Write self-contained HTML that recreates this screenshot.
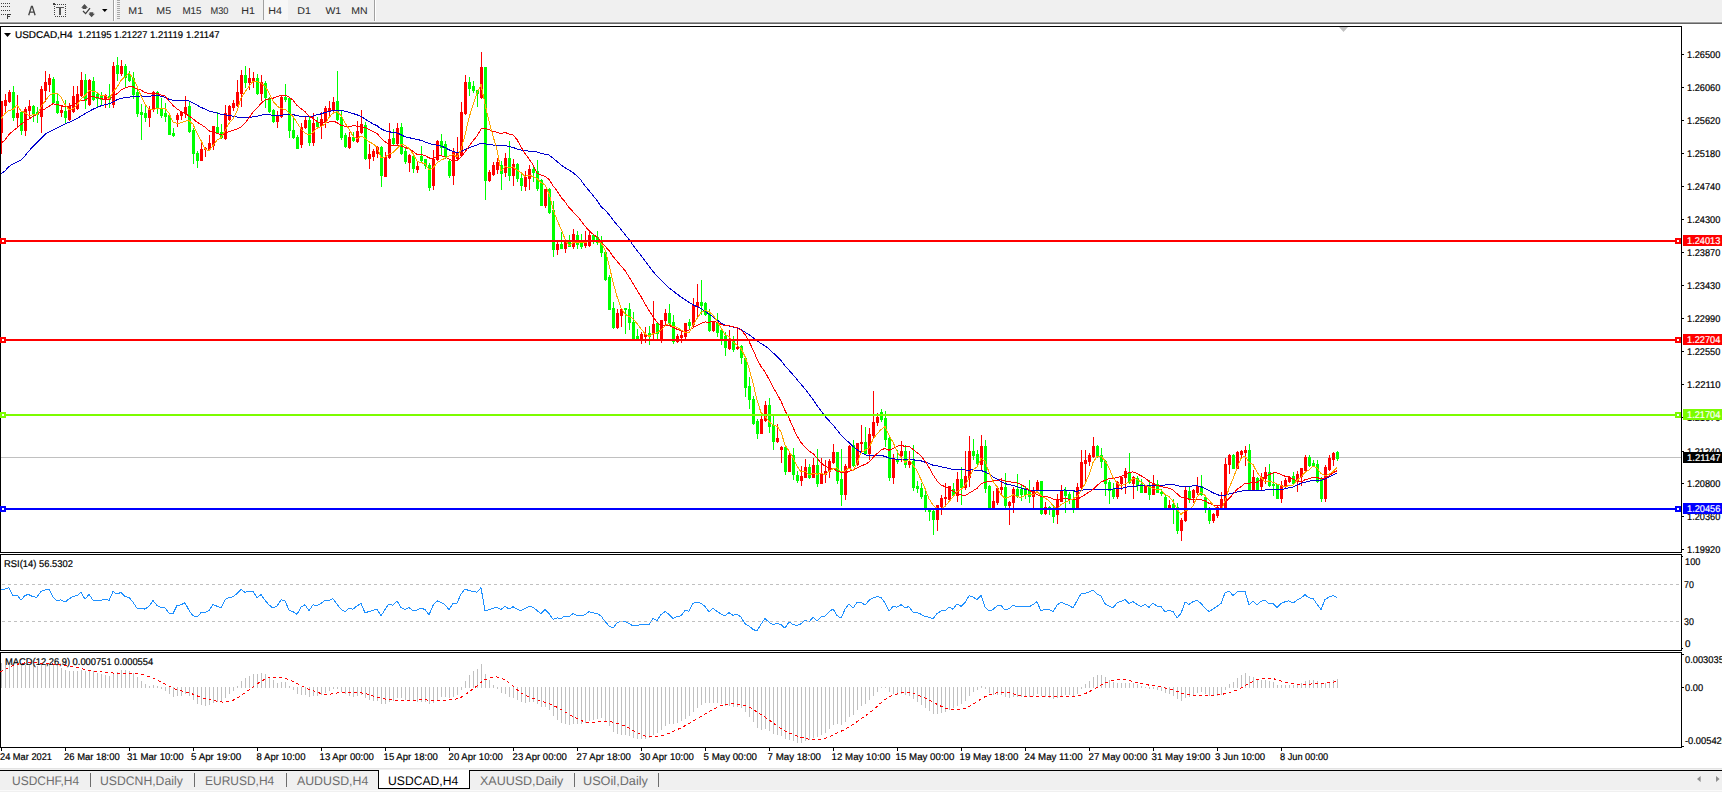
<!DOCTYPE html>
<html><head><meta charset="utf-8"><style>
html,body{margin:0;padding:0;background:#fff;width:1722px;height:792px;overflow:hidden}
svg{display:block}
text{font-family:"Liberation Sans",sans-serif;text-rendering:geometricPrecision}
</style></head><body>
<svg width="1722" height="792" viewBox="0 0 1722 792" shape-rendering="crispEdges">
<rect x="0" y="0" width="1722" height="21" fill="#f0f0f0"/>
<rect x="0" y="21" width="1722" height="1" fill="#f5f5f5"/>
<rect x="0" y="22" width="1722" height="1" fill="#a0a0a0"/>
<rect x="0" y="23" width="1722" height="1" fill="#646464"/>
<rect x="1" y="3" width="1" height="1" fill="#404040"/>
<rect x="3" y="3" width="1" height="1" fill="#404040"/>
<rect x="5" y="3" width="1" height="1" fill="#404040"/>
<rect x="7" y="3" width="1" height="1" fill="#404040"/>
<rect x="9" y="3" width="1" height="1" fill="#404040"/>
<rect x="1" y="6" width="1" height="1" fill="#404040"/>
<rect x="3" y="6" width="1" height="1" fill="#404040"/>
<rect x="5" y="6" width="1" height="1" fill="#404040"/>
<rect x="7" y="6" width="1" height="1" fill="#404040"/>
<rect x="9" y="6" width="1" height="1" fill="#404040"/>
<rect x="1" y="10" width="1" height="1" fill="#404040"/>
<rect x="3" y="10" width="1" height="1" fill="#404040"/>
<rect x="5" y="10" width="1" height="1" fill="#404040"/>
<rect x="7" y="10" width="1" height="1" fill="#404040"/>
<rect x="9" y="10" width="1" height="1" fill="#404040"/>
<rect x="1" y="14" width="1" height="1" fill="#404040"/>
<rect x="3" y="14" width="1" height="1" fill="#404040"/>
<rect x="5" y="14" width="1" height="1" fill="#404040"/>
<rect x="7" y="14" width="1" height="5" fill="#404040"/>
<rect x="7" y="14" width="4" height="1" fill="#404040"/>
<rect x="7" y="16" width="3" height="1" fill="#404040"/>
<path d="M28.7 15.2 L31.5 6.3 L32.3 6.3 L35.1 15.2 M29.9 12.1 L33.9 12.1" stroke="#454545" stroke-width="1.35" fill="none" shape-rendering="geometricPrecision"/>
<rect x="55" y="4" width="1" height="1" fill="#404040"/>
<rect x="55" y="16" width="1" height="1" fill="#404040"/>
<rect x="57" y="4" width="1" height="1" fill="#404040"/>
<rect x="57" y="16" width="1" height="1" fill="#404040"/>
<rect x="59" y="4" width="1" height="1" fill="#404040"/>
<rect x="59" y="16" width="1" height="1" fill="#404040"/>
<rect x="61" y="4" width="1" height="1" fill="#404040"/>
<rect x="61" y="16" width="1" height="1" fill="#404040"/>
<rect x="63" y="4" width="1" height="1" fill="#404040"/>
<rect x="63" y="16" width="1" height="1" fill="#404040"/>
<rect x="65" y="4" width="1" height="1" fill="#404040"/>
<rect x="65" y="16" width="1" height="1" fill="#404040"/>
<rect x="54" y="6" width="1" height="1" fill="#404040"/>
<rect x="65" y="6" width="1" height="1" fill="#404040"/>
<rect x="54" y="8" width="1" height="1" fill="#404040"/>
<rect x="65" y="8" width="1" height="1" fill="#404040"/>
<rect x="54" y="10" width="1" height="1" fill="#404040"/>
<rect x="65" y="10" width="1" height="1" fill="#404040"/>
<rect x="54" y="12" width="1" height="1" fill="#404040"/>
<rect x="65" y="12" width="1" height="1" fill="#404040"/>
<rect x="54" y="14" width="1" height="1" fill="#404040"/>
<rect x="65" y="14" width="1" height="1" fill="#404040"/>
<rect x="53" y="3" width="2" height="2" fill="#404040"/>
<rect x="56" y="7" width="8" height="1" fill="#555"/>
<rect x="59" y="7" width="2" height="8" fill="#555"/>
<path d="M81.2 7.8 L84.5 4 L87.9 7.8 L86.3 7.8 L86.3 8.9 L82.6 8.9 L82.6 7.8 Z" fill="#4e4e4e" shape-rendering="geometricPrecision"/>
<path d="M83 11 L85.6 13.6 L90 8.1" stroke="#3e3e3e" stroke-width="1.3" fill="none" shape-rendering="geometricPrecision"/>
<path d="M89.5 12.2 L93.3 12.2 L93.3 13.7 L94.9 13.7 L91.6 17.2 L88.4 13.7 L89.5 13.7 Z" fill="#4e4e4e" shape-rendering="geometricPrecision"/>
<path d="M102 9 L107.5 9 L104.75 12 Z" fill="#000" shape-rendering="geometricPrecision"/>
<rect x="113" y="0" width="1" height="21" fill="#a0a0a0"/>
<rect x="114" y="0" width="1" height="21" fill="#ffffff"/>
<rect x="117" y="0" width="3" height="1" fill="#a8a8a8"/>
<rect x="117" y="2" width="3" height="1" fill="#a8a8a8"/>
<rect x="117" y="4" width="3" height="1" fill="#a8a8a8"/>
<rect x="117" y="6" width="3" height="1" fill="#a8a8a8"/>
<rect x="117" y="8" width="3" height="1" fill="#a8a8a8"/>
<rect x="117" y="10" width="3" height="1" fill="#a8a8a8"/>
<rect x="117" y="12" width="3" height="1" fill="#a8a8a8"/>
<rect x="117" y="14" width="3" height="1" fill="#a8a8a8"/>
<rect x="117" y="16" width="3" height="1" fill="#a8a8a8"/>
<rect x="117" y="18" width="3" height="1" fill="#a8a8a8"/>
<rect x="263" y="0" width="1" height="20" fill="#a0a0a0"/>
<rect x="264" y="0" width="24" height="20" fill="#f7f7f7"/>
<rect x="374" y="0" width="1" height="21" fill="#a0a0a0"/>
<rect x="375" y="0" width="1" height="21" fill="#ffffff"/>
<text x="128.32" y="14" font-family="Liberation Sans, sans-serif" font-size="9.8" fill="#2e2e2e" stroke="#2e2e2e" stroke-width="0.05" textLength="14.76" lengthAdjust="spacingAndGlyphs">M1</text>
<text x="156.32" y="14" font-family="Liberation Sans, sans-serif" font-size="9.8" fill="#2e2e2e" stroke="#2e2e2e" stroke-width="0.05" textLength="14.76" lengthAdjust="spacingAndGlyphs">M5</text>
<text x="182.40" y="14" font-family="Liberation Sans, sans-serif" font-size="9.8" fill="#2e2e2e" stroke="#2e2e2e" stroke-width="0.05" textLength="19.06" lengthAdjust="spacingAndGlyphs">M15</text>
<text x="210.46" y="14" font-family="Liberation Sans, sans-serif" font-size="9.8" fill="#2e2e2e" stroke="#2e2e2e" stroke-width="0.05" textLength="18.00" lengthAdjust="spacingAndGlyphs">M30</text>
<text x="241.31" y="14" font-family="Liberation Sans, sans-serif" font-size="9.8" fill="#2e2e2e" stroke="#2e2e2e" stroke-width="0.05" textLength="13.67" lengthAdjust="spacingAndGlyphs">H1</text>
<text x="268.31" y="14" font-family="Liberation Sans, sans-serif" font-size="9.8" fill="#2e2e2e" stroke="#2e2e2e" stroke-width="0.05" textLength="13.67" lengthAdjust="spacingAndGlyphs">H4</text>
<text x="297.31" y="14" font-family="Liberation Sans, sans-serif" font-size="9.8" fill="#2e2e2e" stroke="#2e2e2e" stroke-width="0.05" textLength="13.67" lengthAdjust="spacingAndGlyphs">D1</text>
<text x="325.40" y="14" font-family="Liberation Sans, sans-serif" font-size="9.8" fill="#2e2e2e" stroke="#2e2e2e" stroke-width="0.05" textLength="15.75" lengthAdjust="spacingAndGlyphs">W1</text>
<text x="351.33" y="14" font-family="Liberation Sans, sans-serif" font-size="9.8" fill="#2e2e2e" stroke="#2e2e2e" stroke-width="0.05" textLength="16.34" lengthAdjust="spacingAndGlyphs">MN</text>
<rect x="0" y="24" width="1722" height="744" fill="#ffffff"/>
<rect x="0" y="457" width="1681" height="1" fill="#c0c0c0"/>
<rect x="1" y="101" width="1" height="53" fill="#ff0000"/>
<rect x="0" y="101" width="3" height="32" fill="#ff0000"/>
<rect x="5" y="94" width="1" height="19" fill="#ff0000"/>
<rect x="4" y="100" width="3" height="6" fill="#ff0000"/>
<rect x="9" y="90" width="1" height="13" fill="#ff0000"/>
<rect x="8" y="92" width="3" height="10" fill="#ff0000"/>
<rect x="13" y="86" width="1" height="35" fill="#00ff00"/>
<rect x="12" y="92" width="3" height="26" fill="#00ff00"/>
<rect x="17" y="95" width="1" height="33" fill="#ff0000"/>
<rect x="16" y="113" width="3" height="5" fill="#ff0000"/>
<rect x="21" y="111" width="1" height="24" fill="#00ff00"/>
<rect x="20" y="112" width="3" height="19" fill="#00ff00"/>
<rect x="25" y="107" width="1" height="29" fill="#ff0000"/>
<rect x="24" y="109" width="3" height="22" fill="#ff0000"/>
<rect x="29" y="100" width="1" height="18" fill="#ff0000"/>
<rect x="28" y="106" width="3" height="5" fill="#ff0000"/>
<rect x="33" y="105" width="1" height="17" fill="#00ff00"/>
<rect x="32" y="106" width="3" height="8" fill="#00ff00"/>
<rect x="37" y="107" width="1" height="16" fill="#00ff00"/>
<rect x="36" y="112" width="3" height="3" fill="#00ff00"/>
<rect x="41" y="86" width="1" height="47" fill="#ff0000"/>
<rect x="40" y="89" width="3" height="28" fill="#ff0000"/>
<rect x="45" y="71" width="1" height="31" fill="#ff0000"/>
<rect x="44" y="82" width="3" height="9" fill="#ff0000"/>
<rect x="49" y="74" width="1" height="18" fill="#ff0000"/>
<rect x="48" y="78" width="3" height="7" fill="#ff0000"/>
<rect x="53" y="77" width="1" height="27" fill="#00ff00"/>
<rect x="52" y="79" width="3" height="24" fill="#00ff00"/>
<rect x="57" y="94" width="1" height="20" fill="#00ff00"/>
<rect x="56" y="101" width="3" height="12" fill="#00ff00"/>
<rect x="61" y="105" width="1" height="12" fill="#ff0000"/>
<rect x="60" y="110" width="3" height="3" fill="#ff0000"/>
<rect x="65" y="100" width="1" height="23" fill="#00ff00"/>
<rect x="64" y="111" width="3" height="7" fill="#00ff00"/>
<rect x="69" y="103" width="1" height="18" fill="#ff0000"/>
<rect x="68" y="106" width="3" height="14" fill="#ff0000"/>
<rect x="73" y="86" width="1" height="27" fill="#ff0000"/>
<rect x="72" y="96" width="3" height="16" fill="#ff0000"/>
<rect x="77" y="86" width="1" height="24" fill="#ff0000"/>
<rect x="76" y="94" width="3" height="15" fill="#ff0000"/>
<rect x="81" y="72" width="1" height="25" fill="#ff0000"/>
<rect x="80" y="80" width="3" height="16" fill="#ff0000"/>
<rect x="85" y="74" width="1" height="35" fill="#00ff00"/>
<rect x="84" y="80" width="3" height="21" fill="#00ff00"/>
<rect x="89" y="79" width="1" height="27" fill="#ff0000"/>
<rect x="88" y="80" width="3" height="25" fill="#ff0000"/>
<rect x="93" y="77" width="1" height="24" fill="#00ff00"/>
<rect x="92" y="81" width="3" height="19" fill="#00ff00"/>
<rect x="97" y="92" width="1" height="15" fill="#00ff00"/>
<rect x="96" y="94" width="3" height="5" fill="#00ff00"/>
<rect x="101" y="92" width="1" height="13" fill="#00ff00"/>
<rect x="100" y="95" width="3" height="5" fill="#00ff00"/>
<rect x="105" y="94" width="1" height="14" fill="#ff0000"/>
<rect x="104" y="95" width="3" height="5" fill="#ff0000"/>
<rect x="109" y="84" width="1" height="24" fill="#00ff00"/>
<rect x="108" y="96" width="3" height="4" fill="#00ff00"/>
<rect x="113" y="62" width="1" height="46" fill="#ff0000"/>
<rect x="112" y="66" width="3" height="39" fill="#ff0000"/>
<rect x="117" y="57" width="1" height="24" fill="#00ff00"/>
<rect x="116" y="65" width="3" height="9" fill="#00ff00"/>
<rect x="121" y="60" width="1" height="16" fill="#ff0000"/>
<rect x="120" y="66" width="3" height="8" fill="#ff0000"/>
<rect x="125" y="64" width="1" height="23" fill="#00ff00"/>
<rect x="124" y="66" width="3" height="12" fill="#00ff00"/>
<rect x="129" y="71" width="1" height="11" fill="#00ff00"/>
<rect x="128" y="74" width="3" height="7" fill="#00ff00"/>
<rect x="133" y="72" width="1" height="27" fill="#00ff00"/>
<rect x="132" y="78" width="3" height="17" fill="#00ff00"/>
<rect x="137" y="88" width="1" height="29" fill="#00ff00"/>
<rect x="136" y="92" width="3" height="22" fill="#00ff00"/>
<rect x="141" y="104" width="1" height="36" fill="#00ff00"/>
<rect x="140" y="112" width="3" height="3" fill="#00ff00"/>
<rect x="145" y="105" width="1" height="17" fill="#00ff00"/>
<rect x="144" y="113" width="3" height="5" fill="#00ff00"/>
<rect x="149" y="106" width="1" height="21" fill="#ff0000"/>
<rect x="148" y="109" width="3" height="9" fill="#ff0000"/>
<rect x="153" y="91" width="1" height="21" fill="#ff0000"/>
<rect x="152" y="92" width="3" height="17" fill="#ff0000"/>
<rect x="157" y="91" width="1" height="23" fill="#00ff00"/>
<rect x="156" y="92" width="3" height="16" fill="#00ff00"/>
<rect x="161" y="98" width="1" height="20" fill="#00ff00"/>
<rect x="160" y="108" width="3" height="8" fill="#00ff00"/>
<rect x="165" y="103" width="1" height="19" fill="#00ff00"/>
<rect x="164" y="113" width="3" height="4" fill="#00ff00"/>
<rect x="169" y="115" width="1" height="20" fill="#00ff00"/>
<rect x="168" y="115" width="3" height="20" fill="#00ff00"/>
<rect x="173" y="128" width="1" height="9" fill="#00ff00"/>
<rect x="172" y="133" width="3" height="3" fill="#00ff00"/>
<rect x="177" y="113" width="1" height="14" fill="#ff0000"/>
<rect x="176" y="115" width="3" height="5" fill="#ff0000"/>
<rect x="181" y="111" width="1" height="9" fill="#ff0000"/>
<rect x="180" y="112" width="3" height="4" fill="#ff0000"/>
<rect x="185" y="96" width="1" height="22" fill="#ff0000"/>
<rect x="184" y="107" width="3" height="7" fill="#ff0000"/>
<rect x="189" y="101" width="1" height="32" fill="#00ff00"/>
<rect x="188" y="106" width="3" height="26" fill="#00ff00"/>
<rect x="193" y="128" width="1" height="36" fill="#00ff00"/>
<rect x="192" y="130" width="3" height="24" fill="#00ff00"/>
<rect x="197" y="151" width="1" height="17" fill="#00ff00"/>
<rect x="196" y="153" width="3" height="8" fill="#00ff00"/>
<rect x="201" y="142" width="1" height="19" fill="#ff0000"/>
<rect x="200" y="149" width="3" height="12" fill="#ff0000"/>
<rect x="205" y="147" width="1" height="10" fill="#ff0000"/>
<rect x="204" y="148" width="3" height="2" fill="#ff0000"/>
<rect x="209" y="135" width="1" height="15" fill="#ff0000"/>
<rect x="208" y="143" width="3" height="7" fill="#ff0000"/>
<rect x="213" y="126" width="1" height="24" fill="#ff0000"/>
<rect x="212" y="126" width="3" height="20" fill="#ff0000"/>
<rect x="217" y="112" width="1" height="22" fill="#00ff00"/>
<rect x="216" y="127" width="3" height="6" fill="#00ff00"/>
<rect x="221" y="124" width="1" height="15" fill="#00ff00"/>
<rect x="220" y="132" width="3" height="6" fill="#00ff00"/>
<rect x="225" y="105" width="1" height="35" fill="#ff0000"/>
<rect x="224" y="113" width="3" height="26" fill="#ff0000"/>
<rect x="229" y="105" width="1" height="16" fill="#ff0000"/>
<rect x="228" y="106" width="3" height="14" fill="#ff0000"/>
<rect x="233" y="100" width="1" height="11" fill="#ff0000"/>
<rect x="232" y="103" width="3" height="5" fill="#ff0000"/>
<rect x="237" y="80" width="1" height="27" fill="#ff0000"/>
<rect x="236" y="92" width="3" height="14" fill="#ff0000"/>
<rect x="241" y="70" width="1" height="37" fill="#ff0000"/>
<rect x="240" y="75" width="3" height="19" fill="#ff0000"/>
<rect x="245" y="66" width="1" height="22" fill="#00ff00"/>
<rect x="244" y="75" width="3" height="8" fill="#00ff00"/>
<rect x="249" y="68" width="1" height="22" fill="#ff0000"/>
<rect x="248" y="78" width="3" height="5" fill="#ff0000"/>
<rect x="253" y="72" width="1" height="16" fill="#ff0000"/>
<rect x="252" y="78" width="3" height="3" fill="#ff0000"/>
<rect x="257" y="74" width="1" height="21" fill="#00ff00"/>
<rect x="256" y="78" width="3" height="16" fill="#00ff00"/>
<rect x="261" y="75" width="1" height="26" fill="#ff0000"/>
<rect x="260" y="82" width="3" height="12" fill="#ff0000"/>
<rect x="265" y="81" width="1" height="27" fill="#00ff00"/>
<rect x="264" y="83" width="3" height="15" fill="#00ff00"/>
<rect x="269" y="97" width="1" height="16" fill="#00ff00"/>
<rect x="268" y="98" width="3" height="14" fill="#00ff00"/>
<rect x="273" y="109" width="1" height="14" fill="#00ff00"/>
<rect x="272" y="110" width="3" height="12" fill="#00ff00"/>
<rect x="277" y="111" width="1" height="17" fill="#ff0000"/>
<rect x="276" y="116" width="3" height="6" fill="#ff0000"/>
<rect x="281" y="96" width="1" height="22" fill="#ff0000"/>
<rect x="280" y="97" width="3" height="20" fill="#ff0000"/>
<rect x="285" y="84" width="1" height="18" fill="#00ff00"/>
<rect x="284" y="97" width="3" height="3" fill="#00ff00"/>
<rect x="289" y="97" width="1" height="41" fill="#00ff00"/>
<rect x="288" y="98" width="3" height="33" fill="#00ff00"/>
<rect x="293" y="116" width="1" height="23" fill="#00ff00"/>
<rect x="292" y="130" width="3" height="8" fill="#00ff00"/>
<rect x="297" y="135" width="1" height="14" fill="#00ff00"/>
<rect x="296" y="137" width="3" height="12" fill="#00ff00"/>
<rect x="301" y="123" width="1" height="25" fill="#ff0000"/>
<rect x="300" y="127" width="3" height="18" fill="#ff0000"/>
<rect x="305" y="117" width="1" height="12" fill="#ff0000"/>
<rect x="304" y="120" width="3" height="8" fill="#ff0000"/>
<rect x="309" y="117" width="1" height="29" fill="#00ff00"/>
<rect x="308" y="120" width="3" height="23" fill="#00ff00"/>
<rect x="313" y="113" width="1" height="33" fill="#ff0000"/>
<rect x="312" y="123" width="3" height="20" fill="#ff0000"/>
<rect x="317" y="117" width="1" height="11" fill="#00ff00"/>
<rect x="316" y="122" width="3" height="5" fill="#00ff00"/>
<rect x="321" y="112" width="1" height="27" fill="#ff0000"/>
<rect x="320" y="119" width="3" height="7" fill="#ff0000"/>
<rect x="325" y="106" width="1" height="22" fill="#ff0000"/>
<rect x="324" y="108" width="3" height="15" fill="#ff0000"/>
<rect x="329" y="101" width="1" height="15" fill="#ff0000"/>
<rect x="328" y="108" width="3" height="3" fill="#ff0000"/>
<rect x="333" y="97" width="1" height="16" fill="#ff0000"/>
<rect x="332" y="102" width="3" height="8" fill="#ff0000"/>
<rect x="337" y="71" width="1" height="50" fill="#00ff00"/>
<rect x="336" y="101" width="3" height="19" fill="#00ff00"/>
<rect x="341" y="110" width="1" height="30" fill="#00ff00"/>
<rect x="340" y="117" width="3" height="21" fill="#00ff00"/>
<rect x="345" y="133" width="1" height="15" fill="#00ff00"/>
<rect x="344" y="135" width="3" height="12" fill="#00ff00"/>
<rect x="349" y="132" width="1" height="17" fill="#ff0000"/>
<rect x="348" y="137" width="3" height="11" fill="#ff0000"/>
<rect x="353" y="132" width="1" height="10" fill="#00ff00"/>
<rect x="352" y="137" width="3" height="4" fill="#00ff00"/>
<rect x="357" y="121" width="1" height="22" fill="#ff0000"/>
<rect x="356" y="131" width="3" height="11" fill="#ff0000"/>
<rect x="361" y="110" width="1" height="24" fill="#ff0000"/>
<rect x="360" y="124" width="3" height="9" fill="#ff0000"/>
<rect x="365" y="122" width="1" height="38" fill="#00ff00"/>
<rect x="364" y="125" width="3" height="34" fill="#00ff00"/>
<rect x="369" y="144" width="1" height="25" fill="#ff0000"/>
<rect x="368" y="154" width="3" height="5" fill="#ff0000"/>
<rect x="373" y="149" width="1" height="12" fill="#ff0000"/>
<rect x="372" y="151" width="3" height="6" fill="#ff0000"/>
<rect x="377" y="146" width="1" height="12" fill="#ff0000"/>
<rect x="376" y="147" width="3" height="7" fill="#ff0000"/>
<rect x="381" y="146" width="1" height="41" fill="#00ff00"/>
<rect x="380" y="147" width="3" height="29" fill="#00ff00"/>
<rect x="385" y="152" width="1" height="25" fill="#ff0000"/>
<rect x="384" y="157" width="3" height="20" fill="#ff0000"/>
<rect x="389" y="123" width="1" height="36" fill="#ff0000"/>
<rect x="388" y="139" width="3" height="19" fill="#ff0000"/>
<rect x="393" y="129" width="1" height="17" fill="#00ff00"/>
<rect x="392" y="138" width="3" height="6" fill="#00ff00"/>
<rect x="397" y="123" width="1" height="23" fill="#ff0000"/>
<rect x="396" y="128" width="3" height="16" fill="#ff0000"/>
<rect x="401" y="123" width="1" height="32" fill="#00ff00"/>
<rect x="400" y="127" width="3" height="27" fill="#00ff00"/>
<rect x="405" y="147" width="1" height="17" fill="#00ff00"/>
<rect x="404" y="151" width="3" height="11" fill="#00ff00"/>
<rect x="409" y="154" width="1" height="18" fill="#ff0000"/>
<rect x="408" y="155" width="3" height="8" fill="#ff0000"/>
<rect x="413" y="155" width="1" height="18" fill="#00ff00"/>
<rect x="412" y="156" width="3" height="13" fill="#00ff00"/>
<rect x="417" y="162" width="1" height="11" fill="#ff0000"/>
<rect x="416" y="166" width="3" height="4" fill="#ff0000"/>
<rect x="421" y="146" width="1" height="16" fill="#00ff00"/>
<rect x="420" y="156" width="3" height="5" fill="#00ff00"/>
<rect x="425" y="159" width="1" height="10" fill="#00ff00"/>
<rect x="424" y="159" width="3" height="7" fill="#00ff00"/>
<rect x="429" y="163" width="1" height="28" fill="#00ff00"/>
<rect x="428" y="165" width="3" height="23" fill="#00ff00"/>
<rect x="433" y="150" width="1" height="40" fill="#ff0000"/>
<rect x="432" y="159" width="3" height="27" fill="#ff0000"/>
<rect x="437" y="140" width="1" height="21" fill="#ff0000"/>
<rect x="436" y="141" width="3" height="19" fill="#ff0000"/>
<rect x="441" y="134" width="1" height="21" fill="#00ff00"/>
<rect x="440" y="141" width="3" height="7" fill="#00ff00"/>
<rect x="445" y="141" width="1" height="18" fill="#00ff00"/>
<rect x="444" y="144" width="3" height="13" fill="#00ff00"/>
<rect x="449" y="159" width="1" height="19" fill="#00ff00"/>
<rect x="448" y="161" width="3" height="15" fill="#00ff00"/>
<rect x="453" y="148" width="1" height="37" fill="#ff0000"/>
<rect x="452" y="152" width="3" height="24" fill="#ff0000"/>
<rect x="457" y="137" width="1" height="23" fill="#ff0000"/>
<rect x="456" y="152" width="3" height="7" fill="#ff0000"/>
<rect x="461" y="102" width="1" height="55" fill="#ff0000"/>
<rect x="460" y="112" width="3" height="44" fill="#ff0000"/>
<rect x="465" y="75" width="1" height="40" fill="#ff0000"/>
<rect x="464" y="82" width="3" height="32" fill="#ff0000"/>
<rect x="469" y="77" width="1" height="19" fill="#00ff00"/>
<rect x="468" y="82" width="3" height="7" fill="#00ff00"/>
<rect x="473" y="81" width="1" height="12" fill="#00ff00"/>
<rect x="472" y="86" width="3" height="5" fill="#00ff00"/>
<rect x="477" y="90" width="1" height="17" fill="#00ff00"/>
<rect x="476" y="90" width="3" height="4" fill="#00ff00"/>
<rect x="481" y="52" width="1" height="47" fill="#ff0000"/>
<rect x="480" y="67" width="3" height="31" fill="#ff0000"/>
<rect x="485" y="67" width="1" height="133" fill="#00ff00"/>
<rect x="484" y="67" width="3" height="114" fill="#00ff00"/>
<rect x="489" y="170" width="1" height="12" fill="#ff0000"/>
<rect x="488" y="172" width="3" height="9" fill="#ff0000"/>
<rect x="493" y="162" width="1" height="14" fill="#ff0000"/>
<rect x="492" y="165" width="3" height="10" fill="#ff0000"/>
<rect x="497" y="158" width="1" height="16" fill="#ff0000"/>
<rect x="496" y="162" width="3" height="8" fill="#ff0000"/>
<rect x="501" y="161" width="1" height="29" fill="#00ff00"/>
<rect x="500" y="165" width="3" height="9" fill="#00ff00"/>
<rect x="505" y="153" width="1" height="24" fill="#ff0000"/>
<rect x="504" y="158" width="3" height="15" fill="#ff0000"/>
<rect x="509" y="141" width="1" height="40" fill="#00ff00"/>
<rect x="508" y="158" width="3" height="18" fill="#00ff00"/>
<rect x="513" y="159" width="1" height="27" fill="#ff0000"/>
<rect x="512" y="164" width="3" height="12" fill="#ff0000"/>
<rect x="517" y="163" width="1" height="19" fill="#00ff00"/>
<rect x="516" y="164" width="3" height="15" fill="#00ff00"/>
<rect x="521" y="173" width="1" height="18" fill="#00ff00"/>
<rect x="520" y="178" width="3" height="8" fill="#00ff00"/>
<rect x="525" y="171" width="1" height="20" fill="#ff0000"/>
<rect x="524" y="177" width="3" height="10" fill="#ff0000"/>
<rect x="529" y="165" width="1" height="25" fill="#ff0000"/>
<rect x="528" y="169" width="3" height="10" fill="#ff0000"/>
<rect x="533" y="166" width="1" height="16" fill="#00ff00"/>
<rect x="532" y="169" width="3" height="4" fill="#00ff00"/>
<rect x="537" y="160" width="1" height="31" fill="#00ff00"/>
<rect x="536" y="171" width="3" height="18" fill="#00ff00"/>
<rect x="541" y="179" width="1" height="27" fill="#00ff00"/>
<rect x="540" y="180" width="3" height="26" fill="#00ff00"/>
<rect x="545" y="189" width="1" height="19" fill="#ff0000"/>
<rect x="544" y="189" width="3" height="17" fill="#ff0000"/>
<rect x="549" y="188" width="1" height="26" fill="#00ff00"/>
<rect x="548" y="189" width="3" height="24" fill="#00ff00"/>
<rect x="553" y="201" width="1" height="56" fill="#00ff00"/>
<rect x="552" y="210" width="3" height="40" fill="#00ff00"/>
<rect x="557" y="242" width="1" height="13" fill="#ff0000"/>
<rect x="556" y="244" width="3" height="6" fill="#ff0000"/>
<rect x="561" y="232" width="1" height="17" fill="#00ff00"/>
<rect x="560" y="244" width="3" height="5" fill="#00ff00"/>
<rect x="565" y="239" width="1" height="14" fill="#ff0000"/>
<rect x="564" y="240" width="3" height="9" fill="#ff0000"/>
<rect x="569" y="235" width="1" height="12" fill="#00ff00"/>
<rect x="568" y="241" width="3" height="6" fill="#00ff00"/>
<rect x="573" y="229" width="1" height="20" fill="#ff0000"/>
<rect x="572" y="234" width="3" height="13" fill="#ff0000"/>
<rect x="577" y="231" width="1" height="18" fill="#00ff00"/>
<rect x="576" y="235" width="3" height="10" fill="#00ff00"/>
<rect x="581" y="234" width="1" height="15" fill="#00ff00"/>
<rect x="580" y="241" width="3" height="6" fill="#00ff00"/>
<rect x="585" y="231" width="1" height="17" fill="#ff0000"/>
<rect x="584" y="243" width="3" height="3" fill="#ff0000"/>
<rect x="589" y="230" width="1" height="17" fill="#ff0000"/>
<rect x="588" y="235" width="3" height="11" fill="#ff0000"/>
<rect x="593" y="234" width="1" height="10" fill="#00ff00"/>
<rect x="592" y="235" width="3" height="5" fill="#00ff00"/>
<rect x="597" y="231" width="1" height="14" fill="#00ff00"/>
<rect x="596" y="237" width="3" height="6" fill="#00ff00"/>
<rect x="601" y="236" width="1" height="21" fill="#00ff00"/>
<rect x="600" y="242" width="3" height="11" fill="#00ff00"/>
<rect x="605" y="250" width="1" height="31" fill="#00ff00"/>
<rect x="604" y="252" width="3" height="28" fill="#00ff00"/>
<rect x="609" y="275" width="1" height="35" fill="#00ff00"/>
<rect x="608" y="277" width="3" height="33" fill="#00ff00"/>
<rect x="613" y="302" width="1" height="27" fill="#00ff00"/>
<rect x="612" y="308" width="3" height="20" fill="#00ff00"/>
<rect x="617" y="309" width="1" height="20" fill="#ff0000"/>
<rect x="616" y="313" width="3" height="15" fill="#ff0000"/>
<rect x="621" y="308" width="1" height="19" fill="#ff0000"/>
<rect x="620" y="309" width="3" height="7" fill="#ff0000"/>
<rect x="625" y="308" width="1" height="26" fill="#00ff00"/>
<rect x="624" y="308" width="3" height="2" fill="#00ff00"/>
<rect x="629" y="303" width="1" height="27" fill="#00ff00"/>
<rect x="628" y="309" width="3" height="14" fill="#00ff00"/>
<rect x="633" y="312" width="1" height="27" fill="#00ff00"/>
<rect x="632" y="322" width="3" height="17" fill="#00ff00"/>
<rect x="637" y="329" width="1" height="10" fill="#00ff00"/>
<rect x="636" y="336" width="3" height="3" fill="#00ff00"/>
<rect x="641" y="332" width="1" height="12" fill="#ff0000"/>
<rect x="640" y="334" width="3" height="5" fill="#ff0000"/>
<rect x="645" y="327" width="1" height="16" fill="#ff0000"/>
<rect x="644" y="334" width="3" height="3" fill="#ff0000"/>
<rect x="649" y="326" width="1" height="19" fill="#00ff00"/>
<rect x="648" y="333" width="3" height="4" fill="#00ff00"/>
<rect x="653" y="301" width="1" height="38" fill="#ff0000"/>
<rect x="652" y="324" width="3" height="10" fill="#ff0000"/>
<rect x="657" y="322" width="1" height="18" fill="#00ff00"/>
<rect x="656" y="323" width="3" height="11" fill="#00ff00"/>
<rect x="661" y="320" width="1" height="23" fill="#ff0000"/>
<rect x="660" y="320" width="3" height="20" fill="#ff0000"/>
<rect x="665" y="309" width="1" height="17" fill="#ff0000"/>
<rect x="664" y="313" width="3" height="8" fill="#ff0000"/>
<rect x="669" y="304" width="1" height="21" fill="#00ff00"/>
<rect x="668" y="313" width="3" height="11" fill="#00ff00"/>
<rect x="673" y="315" width="1" height="29" fill="#00ff00"/>
<rect x="672" y="322" width="3" height="20" fill="#00ff00"/>
<rect x="677" y="334" width="1" height="9" fill="#ff0000"/>
<rect x="676" y="336" width="3" height="6" fill="#ff0000"/>
<rect x="681" y="330" width="1" height="13" fill="#ff0000"/>
<rect x="680" y="335" width="3" height="3" fill="#ff0000"/>
<rect x="685" y="323" width="1" height="17" fill="#ff0000"/>
<rect x="684" y="323" width="3" height="14" fill="#ff0000"/>
<rect x="689" y="319" width="1" height="11" fill="#00ff00"/>
<rect x="688" y="322" width="3" height="4" fill="#00ff00"/>
<rect x="693" y="298" width="1" height="29" fill="#ff0000"/>
<rect x="692" y="305" width="3" height="20" fill="#ff0000"/>
<rect x="697" y="284" width="1" height="33" fill="#ff0000"/>
<rect x="696" y="302" width="3" height="5" fill="#ff0000"/>
<rect x="701" y="280" width="1" height="35" fill="#00ff00"/>
<rect x="700" y="302" width="3" height="4" fill="#00ff00"/>
<rect x="705" y="302" width="1" height="14" fill="#00ff00"/>
<rect x="704" y="303" width="3" height="12" fill="#00ff00"/>
<rect x="709" y="309" width="1" height="23" fill="#00ff00"/>
<rect x="708" y="313" width="3" height="18" fill="#00ff00"/>
<rect x="713" y="321" width="1" height="11" fill="#ff0000"/>
<rect x="712" y="322" width="3" height="9" fill="#ff0000"/>
<rect x="717" y="313" width="1" height="24" fill="#00ff00"/>
<rect x="716" y="322" width="3" height="11" fill="#00ff00"/>
<rect x="721" y="328" width="1" height="17" fill="#00ff00"/>
<rect x="720" y="330" width="3" height="11" fill="#00ff00"/>
<rect x="725" y="332" width="1" height="24" fill="#00ff00"/>
<rect x="724" y="336" width="3" height="12" fill="#00ff00"/>
<rect x="729" y="330" width="1" height="20" fill="#ff0000"/>
<rect x="728" y="340" width="3" height="9" fill="#ff0000"/>
<rect x="733" y="336" width="1" height="16" fill="#00ff00"/>
<rect x="732" y="340" width="3" height="10" fill="#00ff00"/>
<rect x="737" y="327" width="1" height="23" fill="#ff0000"/>
<rect x="736" y="347" width="3" height="2" fill="#ff0000"/>
<rect x="741" y="345" width="1" height="19" fill="#00ff00"/>
<rect x="740" y="346" width="3" height="12" fill="#00ff00"/>
<rect x="745" y="357" width="1" height="40" fill="#00ff00"/>
<rect x="744" y="358" width="3" height="30" fill="#00ff00"/>
<rect x="749" y="377" width="1" height="32" fill="#00ff00"/>
<rect x="748" y="386" width="3" height="14" fill="#00ff00"/>
<rect x="753" y="396" width="1" height="29" fill="#00ff00"/>
<rect x="752" y="399" width="3" height="25" fill="#00ff00"/>
<rect x="757" y="419" width="1" height="20" fill="#00ff00"/>
<rect x="756" y="421" width="3" height="13" fill="#00ff00"/>
<rect x="761" y="416" width="1" height="18" fill="#ff0000"/>
<rect x="760" y="419" width="3" height="15" fill="#ff0000"/>
<rect x="765" y="401" width="1" height="21" fill="#ff0000"/>
<rect x="764" y="405" width="3" height="16" fill="#ff0000"/>
<rect x="769" y="398" width="1" height="35" fill="#00ff00"/>
<rect x="768" y="405" width="3" height="22" fill="#00ff00"/>
<rect x="773" y="415" width="1" height="35" fill="#00ff00"/>
<rect x="772" y="425" width="3" height="17" fill="#00ff00"/>
<rect x="777" y="424" width="1" height="19" fill="#ff0000"/>
<rect x="776" y="438" width="3" height="4" fill="#ff0000"/>
<rect x="781" y="446" width="1" height="17" fill="#ff0000"/>
<rect x="780" y="447" width="3" height="3" fill="#ff0000"/>
<rect x="785" y="447" width="1" height="28" fill="#00ff00"/>
<rect x="784" y="447" width="3" height="25" fill="#00ff00"/>
<rect x="789" y="451" width="1" height="21" fill="#ff0000"/>
<rect x="788" y="455" width="3" height="17" fill="#ff0000"/>
<rect x="793" y="448" width="1" height="32" fill="#00ff00"/>
<rect x="792" y="455" width="3" height="20" fill="#00ff00"/>
<rect x="797" y="471" width="1" height="12" fill="#00ff00"/>
<rect x="796" y="475" width="3" height="6" fill="#00ff00"/>
<rect x="801" y="466" width="1" height="20" fill="#ff0000"/>
<rect x="800" y="476" width="3" height="5" fill="#ff0000"/>
<rect x="805" y="459" width="1" height="19" fill="#ff0000"/>
<rect x="804" y="467" width="3" height="11" fill="#ff0000"/>
<rect x="809" y="464" width="1" height="15" fill="#00ff00"/>
<rect x="808" y="467" width="3" height="11" fill="#00ff00"/>
<rect x="813" y="458" width="1" height="20" fill="#ff0000"/>
<rect x="812" y="465" width="3" height="13" fill="#ff0000"/>
<rect x="817" y="449" width="1" height="38" fill="#00ff00"/>
<rect x="816" y="465" width="3" height="19" fill="#00ff00"/>
<rect x="821" y="458" width="1" height="26" fill="#ff0000"/>
<rect x="820" y="474" width="3" height="10" fill="#ff0000"/>
<rect x="825" y="460" width="1" height="23" fill="#ff0000"/>
<rect x="824" y="471" width="3" height="4" fill="#ff0000"/>
<rect x="829" y="459" width="1" height="19" fill="#ff0000"/>
<rect x="828" y="461" width="3" height="11" fill="#ff0000"/>
<rect x="833" y="444" width="1" height="20" fill="#ff0000"/>
<rect x="832" y="452" width="3" height="11" fill="#ff0000"/>
<rect x="837" y="452" width="1" height="32" fill="#00ff00"/>
<rect x="836" y="452" width="3" height="29" fill="#00ff00"/>
<rect x="841" y="449" width="1" height="57" fill="#00ff00"/>
<rect x="840" y="479" width="3" height="16" fill="#00ff00"/>
<rect x="845" y="464" width="1" height="36" fill="#ff0000"/>
<rect x="844" y="466" width="3" height="29" fill="#ff0000"/>
<rect x="849" y="445" width="1" height="24" fill="#ff0000"/>
<rect x="848" y="446" width="3" height="23" fill="#ff0000"/>
<rect x="853" y="440" width="1" height="27" fill="#00ff00"/>
<rect x="852" y="445" width="3" height="21" fill="#00ff00"/>
<rect x="857" y="443" width="1" height="23" fill="#ff0000"/>
<rect x="856" y="443" width="3" height="22" fill="#ff0000"/>
<rect x="861" y="425" width="1" height="28" fill="#ff0000"/>
<rect x="860" y="442" width="3" height="2" fill="#ff0000"/>
<rect x="865" y="427" width="1" height="28" fill="#00ff00"/>
<rect x="864" y="442" width="3" height="12" fill="#00ff00"/>
<rect x="869" y="428" width="1" height="32" fill="#ff0000"/>
<rect x="868" y="434" width="3" height="20" fill="#ff0000"/>
<rect x="873" y="391" width="1" height="47" fill="#ff0000"/>
<rect x="872" y="422" width="3" height="14" fill="#ff0000"/>
<rect x="877" y="413" width="1" height="13" fill="#ff0000"/>
<rect x="876" y="417" width="3" height="6" fill="#ff0000"/>
<rect x="881" y="409" width="1" height="13" fill="#00ff00"/>
<rect x="880" y="412" width="3" height="8" fill="#00ff00"/>
<rect x="885" y="411" width="1" height="36" fill="#00ff00"/>
<rect x="884" y="418" width="3" height="22" fill="#00ff00"/>
<rect x="889" y="437" width="1" height="44" fill="#00ff00"/>
<rect x="888" y="438" width="3" height="40" fill="#00ff00"/>
<rect x="893" y="454" width="1" height="30" fill="#ff0000"/>
<rect x="892" y="458" width="3" height="20" fill="#ff0000"/>
<rect x="897" y="450" width="1" height="14" fill="#00ff00"/>
<rect x="896" y="459" width="3" height="3" fill="#00ff00"/>
<rect x="901" y="441" width="1" height="21" fill="#ff0000"/>
<rect x="900" y="451" width="3" height="5" fill="#ff0000"/>
<rect x="905" y="445" width="1" height="23" fill="#00ff00"/>
<rect x="904" y="451" width="3" height="14" fill="#00ff00"/>
<rect x="909" y="451" width="1" height="17" fill="#ff0000"/>
<rect x="908" y="461" width="3" height="4" fill="#ff0000"/>
<rect x="913" y="445" width="1" height="46" fill="#00ff00"/>
<rect x="912" y="461" width="3" height="27" fill="#00ff00"/>
<rect x="917" y="481" width="1" height="12" fill="#00ff00"/>
<rect x="916" y="486" width="3" height="3" fill="#00ff00"/>
<rect x="921" y="483" width="1" height="16" fill="#00ff00"/>
<rect x="920" y="488" width="3" height="9" fill="#00ff00"/>
<rect x="925" y="489" width="1" height="23" fill="#00ff00"/>
<rect x="924" y="495" width="3" height="14" fill="#00ff00"/>
<rect x="929" y="510" width="1" height="11" fill="#00ff00"/>
<rect x="928" y="510" width="3" height="2" fill="#00ff00"/>
<rect x="933" y="510" width="1" height="25" fill="#00ff00"/>
<rect x="932" y="511" width="3" height="9" fill="#00ff00"/>
<rect x="937" y="505" width="1" height="26" fill="#ff0000"/>
<rect x="936" y="505" width="3" height="15" fill="#ff0000"/>
<rect x="941" y="495" width="1" height="20" fill="#ff0000"/>
<rect x="940" y="498" width="3" height="9" fill="#ff0000"/>
<rect x="945" y="483" width="1" height="24" fill="#ff0000"/>
<rect x="944" y="497" width="3" height="2" fill="#ff0000"/>
<rect x="949" y="486" width="1" height="16" fill="#ff0000"/>
<rect x="948" y="486" width="3" height="14" fill="#ff0000"/>
<rect x="953" y="483" width="1" height="13" fill="#00ff00"/>
<rect x="952" y="489" width="3" height="7" fill="#00ff00"/>
<rect x="957" y="472" width="1" height="30" fill="#ff0000"/>
<rect x="956" y="479" width="3" height="17" fill="#ff0000"/>
<rect x="961" y="467" width="1" height="38" fill="#00ff00"/>
<rect x="960" y="479" width="3" height="9" fill="#00ff00"/>
<rect x="965" y="451" width="1" height="39" fill="#ff0000"/>
<rect x="964" y="476" width="3" height="12" fill="#ff0000"/>
<rect x="969" y="436" width="1" height="51" fill="#ff0000"/>
<rect x="968" y="451" width="3" height="27" fill="#ff0000"/>
<rect x="973" y="439" width="1" height="21" fill="#00ff00"/>
<rect x="972" y="451" width="3" height="5" fill="#00ff00"/>
<rect x="977" y="450" width="1" height="15" fill="#00ff00"/>
<rect x="976" y="454" width="3" height="10" fill="#00ff00"/>
<rect x="981" y="435" width="1" height="36" fill="#ff0000"/>
<rect x="980" y="446" width="3" height="19" fill="#ff0000"/>
<rect x="985" y="440" width="1" height="53" fill="#00ff00"/>
<rect x="984" y="446" width="3" height="43" fill="#00ff00"/>
<rect x="989" y="485" width="1" height="24" fill="#00ff00"/>
<rect x="988" y="486" width="3" height="22" fill="#00ff00"/>
<rect x="993" y="491" width="1" height="18" fill="#ff0000"/>
<rect x="992" y="501" width="3" height="8" fill="#ff0000"/>
<rect x="997" y="487" width="1" height="18" fill="#ff0000"/>
<rect x="996" y="488" width="3" height="15" fill="#ff0000"/>
<rect x="1001" y="478" width="1" height="16" fill="#ff0000"/>
<rect x="1000" y="487" width="3" height="3" fill="#ff0000"/>
<rect x="1005" y="473" width="1" height="35" fill="#00ff00"/>
<rect x="1004" y="487" width="3" height="19" fill="#00ff00"/>
<rect x="1009" y="501" width="1" height="24" fill="#ff0000"/>
<rect x="1008" y="502" width="3" height="4" fill="#ff0000"/>
<rect x="1013" y="487" width="1" height="26" fill="#ff0000"/>
<rect x="1012" y="489" width="3" height="14" fill="#ff0000"/>
<rect x="1017" y="474" width="1" height="24" fill="#00ff00"/>
<rect x="1016" y="489" width="3" height="8" fill="#00ff00"/>
<rect x="1021" y="485" width="1" height="16" fill="#00ff00"/>
<rect x="1020" y="489" width="3" height="6" fill="#00ff00"/>
<rect x="1025" y="486" width="1" height="13" fill="#00ff00"/>
<rect x="1024" y="488" width="3" height="7" fill="#00ff00"/>
<rect x="1029" y="480" width="1" height="23" fill="#00ff00"/>
<rect x="1028" y="490" width="3" height="7" fill="#00ff00"/>
<rect x="1033" y="487" width="1" height="21" fill="#ff0000"/>
<rect x="1032" y="490" width="3" height="7" fill="#ff0000"/>
<rect x="1037" y="480" width="1" height="13" fill="#ff0000"/>
<rect x="1036" y="482" width="3" height="9" fill="#ff0000"/>
<rect x="1041" y="481" width="1" height="34" fill="#00ff00"/>
<rect x="1040" y="481" width="3" height="33" fill="#00ff00"/>
<rect x="1045" y="502" width="1" height="13" fill="#ff0000"/>
<rect x="1044" y="507" width="3" height="7" fill="#ff0000"/>
<rect x="1049" y="506" width="1" height="9" fill="#00ff00"/>
<rect x="1048" y="507" width="3" height="3" fill="#00ff00"/>
<rect x="1053" y="505" width="1" height="18" fill="#00ff00"/>
<rect x="1052" y="508" width="3" height="9" fill="#00ff00"/>
<rect x="1057" y="494" width="1" height="30" fill="#ff0000"/>
<rect x="1056" y="499" width="3" height="16" fill="#ff0000"/>
<rect x="1061" y="485" width="1" height="17" fill="#ff0000"/>
<rect x="1060" y="490" width="3" height="12" fill="#ff0000"/>
<rect x="1065" y="487" width="1" height="26" fill="#00ff00"/>
<rect x="1064" y="490" width="3" height="6" fill="#00ff00"/>
<rect x="1069" y="492" width="1" height="12" fill="#00ff00"/>
<rect x="1068" y="494" width="3" height="6" fill="#00ff00"/>
<rect x="1073" y="490" width="1" height="23" fill="#00ff00"/>
<rect x="1072" y="499" width="3" height="10" fill="#00ff00"/>
<rect x="1077" y="483" width="1" height="26" fill="#ff0000"/>
<rect x="1076" y="487" width="3" height="22" fill="#ff0000"/>
<rect x="1081" y="450" width="1" height="40" fill="#ff0000"/>
<rect x="1080" y="462" width="3" height="26" fill="#ff0000"/>
<rect x="1085" y="450" width="1" height="33" fill="#ff0000"/>
<rect x="1084" y="460" width="3" height="4" fill="#ff0000"/>
<rect x="1089" y="453" width="1" height="13" fill="#ff0000"/>
<rect x="1088" y="455" width="3" height="7" fill="#ff0000"/>
<rect x="1093" y="437" width="1" height="21" fill="#ff0000"/>
<rect x="1092" y="446" width="3" height="11" fill="#ff0000"/>
<rect x="1097" y="445" width="1" height="13" fill="#00ff00"/>
<rect x="1096" y="446" width="3" height="11" fill="#00ff00"/>
<rect x="1101" y="448" width="1" height="20" fill="#00ff00"/>
<rect x="1100" y="455" width="3" height="7" fill="#00ff00"/>
<rect x="1105" y="460" width="1" height="36" fill="#00ff00"/>
<rect x="1104" y="461" width="3" height="23" fill="#00ff00"/>
<rect x="1109" y="480" width="1" height="24" fill="#00ff00"/>
<rect x="1108" y="482" width="3" height="9" fill="#00ff00"/>
<rect x="1113" y="483" width="1" height="16" fill="#00ff00"/>
<rect x="1112" y="489" width="3" height="8" fill="#00ff00"/>
<rect x="1117" y="481" width="1" height="18" fill="#ff0000"/>
<rect x="1116" y="482" width="3" height="15" fill="#ff0000"/>
<rect x="1121" y="476" width="1" height="14" fill="#ff0000"/>
<rect x="1120" y="477" width="3" height="7" fill="#ff0000"/>
<rect x="1125" y="468" width="1" height="26" fill="#ff0000"/>
<rect x="1124" y="471" width="3" height="7" fill="#ff0000"/>
<rect x="1129" y="453" width="1" height="31" fill="#00ff00"/>
<rect x="1128" y="472" width="3" height="11" fill="#00ff00"/>
<rect x="1133" y="476" width="1" height="23" fill="#ff0000"/>
<rect x="1132" y="477" width="3" height="7" fill="#ff0000"/>
<rect x="1137" y="476" width="1" height="15" fill="#00ff00"/>
<rect x="1136" y="478" width="3" height="8" fill="#00ff00"/>
<rect x="1141" y="479" width="1" height="14" fill="#00ff00"/>
<rect x="1140" y="484" width="3" height="9" fill="#00ff00"/>
<rect x="1145" y="485" width="1" height="8" fill="#ff0000"/>
<rect x="1144" y="486" width="3" height="7" fill="#ff0000"/>
<rect x="1149" y="480" width="1" height="20" fill="#00ff00"/>
<rect x="1148" y="486" width="3" height="9" fill="#00ff00"/>
<rect x="1153" y="475" width="1" height="20" fill="#ff0000"/>
<rect x="1152" y="483" width="3" height="12" fill="#ff0000"/>
<rect x="1157" y="480" width="1" height="13" fill="#00ff00"/>
<rect x="1156" y="484" width="3" height="9" fill="#00ff00"/>
<rect x="1161" y="489" width="1" height="7" fill="#00ff00"/>
<rect x="1160" y="492" width="3" height="2" fill="#00ff00"/>
<rect x="1165" y="495" width="1" height="14" fill="#00ff00"/>
<rect x="1164" y="497" width="3" height="12" fill="#00ff00"/>
<rect x="1169" y="500" width="1" height="9" fill="#ff0000"/>
<rect x="1168" y="505" width="3" height="3" fill="#ff0000"/>
<rect x="1173" y="499" width="1" height="25" fill="#00ff00"/>
<rect x="1172" y="504" width="3" height="5" fill="#00ff00"/>
<rect x="1177" y="503" width="1" height="31" fill="#00ff00"/>
<rect x="1176" y="507" width="3" height="24" fill="#00ff00"/>
<rect x="1181" y="518" width="1" height="23" fill="#ff0000"/>
<rect x="1180" y="520" width="3" height="11" fill="#ff0000"/>
<rect x="1185" y="486" width="1" height="36" fill="#ff0000"/>
<rect x="1184" y="490" width="3" height="31" fill="#ff0000"/>
<rect x="1189" y="487" width="1" height="16" fill="#00ff00"/>
<rect x="1188" y="491" width="3" height="8" fill="#00ff00"/>
<rect x="1193" y="489" width="1" height="14" fill="#ff0000"/>
<rect x="1192" y="490" width="3" height="8" fill="#ff0000"/>
<rect x="1197" y="477" width="1" height="18" fill="#ff0000"/>
<rect x="1196" y="486" width="3" height="7" fill="#ff0000"/>
<rect x="1201" y="475" width="1" height="21" fill="#00ff00"/>
<rect x="1200" y="486" width="3" height="9" fill="#00ff00"/>
<rect x="1205" y="496" width="1" height="17" fill="#00ff00"/>
<rect x="1204" y="497" width="3" height="12" fill="#00ff00"/>
<rect x="1209" y="507" width="1" height="17" fill="#00ff00"/>
<rect x="1208" y="508" width="3" height="13" fill="#00ff00"/>
<rect x="1213" y="513" width="1" height="10" fill="#ff0000"/>
<rect x="1212" y="514" width="3" height="7" fill="#ff0000"/>
<rect x="1217" y="505" width="1" height="13" fill="#ff0000"/>
<rect x="1216" y="507" width="3" height="9" fill="#ff0000"/>
<rect x="1221" y="492" width="1" height="17" fill="#ff0000"/>
<rect x="1220" y="499" width="3" height="10" fill="#ff0000"/>
<rect x="1225" y="458" width="1" height="51" fill="#ff0000"/>
<rect x="1224" y="464" width="3" height="45" fill="#ff0000"/>
<rect x="1229" y="454" width="1" height="20" fill="#ff0000"/>
<rect x="1228" y="455" width="3" height="10" fill="#ff0000"/>
<rect x="1233" y="454" width="1" height="15" fill="#00ff00"/>
<rect x="1232" y="455" width="3" height="14" fill="#00ff00"/>
<rect x="1237" y="451" width="1" height="18" fill="#ff0000"/>
<rect x="1236" y="452" width="3" height="17" fill="#ff0000"/>
<rect x="1241" y="450" width="1" height="9" fill="#ff0000"/>
<rect x="1240" y="451" width="3" height="4" fill="#ff0000"/>
<rect x="1245" y="446" width="1" height="20" fill="#ff0000"/>
<rect x="1244" y="450" width="3" height="3" fill="#ff0000"/>
<rect x="1249" y="444" width="1" height="47" fill="#00ff00"/>
<rect x="1248" y="450" width="3" height="41" fill="#00ff00"/>
<rect x="1253" y="470" width="1" height="21" fill="#ff0000"/>
<rect x="1252" y="477" width="3" height="14" fill="#ff0000"/>
<rect x="1257" y="477" width="1" height="14" fill="#00ff00"/>
<rect x="1256" y="478" width="3" height="13" fill="#00ff00"/>
<rect x="1261" y="473" width="1" height="18" fill="#ff0000"/>
<rect x="1260" y="477" width="3" height="10" fill="#ff0000"/>
<rect x="1265" y="467" width="1" height="17" fill="#ff0000"/>
<rect x="1264" y="472" width="3" height="7" fill="#ff0000"/>
<rect x="1269" y="464" width="1" height="23" fill="#00ff00"/>
<rect x="1268" y="472" width="3" height="14" fill="#00ff00"/>
<rect x="1273" y="473" width="1" height="23" fill="#00ff00"/>
<rect x="1272" y="484" width="3" height="2" fill="#00ff00"/>
<rect x="1277" y="484" width="1" height="15" fill="#00ff00"/>
<rect x="1276" y="484" width="3" height="15" fill="#00ff00"/>
<rect x="1281" y="481" width="1" height="22" fill="#ff0000"/>
<rect x="1280" y="485" width="3" height="14" fill="#ff0000"/>
<rect x="1285" y="478" width="1" height="11" fill="#ff0000"/>
<rect x="1284" y="480" width="3" height="6" fill="#ff0000"/>
<rect x="1289" y="476" width="1" height="7" fill="#ff0000"/>
<rect x="1288" y="477" width="3" height="5" fill="#ff0000"/>
<rect x="1293" y="472" width="1" height="13" fill="#00ff00"/>
<rect x="1292" y="476" width="3" height="8" fill="#00ff00"/>
<rect x="1297" y="471" width="1" height="21" fill="#ff0000"/>
<rect x="1296" y="474" width="3" height="7" fill="#ff0000"/>
<rect x="1301" y="468" width="1" height="18" fill="#ff0000"/>
<rect x="1300" y="468" width="3" height="9" fill="#ff0000"/>
<rect x="1305" y="455" width="1" height="17" fill="#ff0000"/>
<rect x="1304" y="457" width="3" height="14" fill="#ff0000"/>
<rect x="1309" y="455" width="1" height="12" fill="#00ff00"/>
<rect x="1308" y="457" width="3" height="9" fill="#00ff00"/>
<rect x="1313" y="460" width="1" height="7" fill="#00ff00"/>
<rect x="1312" y="463" width="3" height="3" fill="#00ff00"/>
<rect x="1317" y="460" width="1" height="23" fill="#00ff00"/>
<rect x="1316" y="464" width="3" height="18" fill="#00ff00"/>
<rect x="1321" y="477" width="1" height="25" fill="#00ff00"/>
<rect x="1320" y="479" width="3" height="20" fill="#00ff00"/>
<rect x="1325" y="465" width="1" height="37" fill="#ff0000"/>
<rect x="1324" y="467" width="3" height="32" fill="#ff0000"/>
<rect x="1329" y="455" width="1" height="16" fill="#ff0000"/>
<rect x="1328" y="458" width="3" height="12" fill="#ff0000"/>
<rect x="1333" y="452" width="1" height="14" fill="#ff0000"/>
<rect x="1332" y="453" width="3" height="7" fill="#ff0000"/>
<rect x="1337" y="451" width="1" height="10" fill="#00ff00"/>
<rect x="1336" y="452" width="3" height="7" fill="#00ff00"/>
<polyline points="0,174.7 1,174.0 5,170.8 9,166.6 13,163.9 17,161.9 21,160.0 25,155.8 29,150.8 33,146.6 37,142.4 41,138.4 45,134.4 49,131.9 53,129.9 57,127.9 61,125.9 65,123.9 69,122.3 73,120.7 77,118.4 81,116.1 85,113.7 89,111.4 93,109.2 97,107.5 101,105.8 105,104.7 109,103.7 113,102.2 117,99.6 121,98.4 125,97.6 129,97.2 133,96.4 137,96.4 141,95.9 145,96.2 149,96.3 153,95.6 157,95.3 161,96.2 165,97.3 169,99.2 173,100.3 177,100.4 181,100.5 185,100.1 189,101.0 193,102.9 197,105.1 201,107.4 205,109.0 209,111.1 213,112.0 217,113.1 221,114.3 225,114.9 229,115.2 233,116.4 237,117.0 241,117.3 245,117.5 249,117.4 253,116.9 257,116.2 261,115.2 265,114.5 269,114.6 273,115.5 277,115.8 281,115.2 285,114.7 289,114.5 293,114.6 297,115.7 301,116.2 305,116.6 309,117.0 313,116.0 317,114.8 321,113.9 325,112.5 329,111.4 333,110.6 337,110.1 341,110.1 345,111.2 349,112.3 353,113.5 357,114.8 361,116.4 365,119.0 369,121.5 373,123.9 377,125.7 381,128.8 385,130.8 389,131.7 393,132.5 397,132.9 401,134.7 405,136.8 409,137.6 413,138.7 417,139.3 421,140.4 425,141.9 429,143.4 433,144.6 437,145.1 441,146.0 445,147.6 449,149.8 453,151.5 457,152.6 461,151.7 465,149.6 469,147.9 473,146.3 477,145.0 481,143.1 485,143.9 489,144.5 493,145.0 497,145.5 501,145.4 505,145.5 509,146.7 513,147.4 517,149.0 521,150.1 525,150.6 529,151.1 533,151.2 537,151.9 541,153.4 545,154.2 549,155.0 553,158.0 557,161.5 561,164.9 565,167.7 569,170.0 573,172.7 577,175.8 581,180.3 585,185.7 589,190.6 593,195.5 597,200.5 601,206.7 605,210.0 609,214.5 613,219.9 617,224.9 621,229.4 625,234.5 629,239.4 633,245.2 637,250.5 641,255.5 645,260.7 649,266.3 653,271.4 657,276.2 661,280.1 665,284.2 669,287.9 673,291.0 677,294.0 681,297.0 685,299.7 689,302.4 693,304.7 697,306.7 701,308.6 705,311.0 709,314.1 713,316.9 717,319.9 721,322.8 725,325.1 729,326.1 733,326.9 737,328.0 741,329.6 745,332.2 749,334.7 753,337.6 757,340.7 761,343.6 765,345.9 769,348.9 773,352.8 777,356.3 781,360.5 785,365.8 789,370.2 793,374.7 797,379.5 801,384.2 805,389.0 809,394.0 813,399.4 817,405.4 821,411.0 825,416.3 829,420.6 833,425.0 837,429.9 841,435.0 845,439.0 849,442.5 853,446.4 857,449.6 861,452.4 865,454.6 869,455.8 873,455.8 877,455.3 881,455.3 885,456.4 889,458.1 893,458.6 897,459.4 901,459.5 905,459.3 909,459.5 913,459.9 917,460.2 921,460.8 925,462.2 929,463.4 933,465.2 937,465.9 941,466.7 945,467.6 949,468.4 953,469.9 957,469.8 961,469.6 965,470.0 969,470.1 973,469.8 977,470.4 981,470.6 985,471.7 989,474.2 993,476.8 997,479.2 1001,481.5 1005,483.7 1009,484.5 1013,485.5 1017,486.7 1021,488.1 1025,489.2 1029,490.3 1033,490.4 1037,490.2 1041,490.8 1045,490.7 1049,490.7 1053,490.6 1057,490.4 1061,490.1 1065,490.0 1069,490.5 1073,490.9 1077,491.2 1081,490.3 1085,489.8 1089,489.9 1093,489.7 1097,489.4 1101,489.9 1105,489.7 1109,489.2 1113,489.0 1117,488.8 1121,488.5 1125,487.4 1129,486.7 1133,486.3 1137,486.0 1141,485.9 1145,485.6 1149,485.5 1153,485.3 1157,485.6 1161,485.0 1165,485.0 1169,484.8 1173,484.6 1177,485.6 1181,486.6 1185,486.4 1189,486.4 1193,485.8 1197,485.7 1201,486.8 1205,488.4 1209,490.5 1213,492.8 1217,494.5 1221,495.8 1225,495.2 1229,494.0 1233,493.0 1237,492.0 1241,491.2 1245,490.5 1249,490.7 1253,490.7 1257,490.9 1261,490.4 1265,490.0 1269,489.7 1273,489.7 1277,489.9 1281,489.7 1285,488.7 1289,487.8 1293,487.0 1297,485.1 1301,483.4 1305,482.3 1309,481.2 1313,480.4 1317,480.2 1321,480.3 1325,479.0 1329,476.9 1333,474.9 1337,473.2" fill="none" stroke="#0000cd" stroke-width="1"/>
<polyline points="0,144.1 1,143.6 5,139.8 9,134.4 13,131.0 17,127.8 21,124.3 25,121.4 29,118.9 33,116.5 37,114.5 41,111.6 45,108.8 49,106.3 53,103.7 57,104.6 61,105.3 65,107.1 69,106.3 73,105.1 77,102.5 81,100.4 85,100.0 89,97.6 93,96.6 97,97.3 101,98.5 105,99.8 109,99.6 113,96.3 117,93.7 121,90.0 125,87.9 129,86.7 133,86.7 137,89.1 141,90.1 145,92.7 149,93.4 153,92.9 157,93.5 161,94.9 165,96.1 169,100.9 173,105.4 177,108.9 181,111.4 185,113.3 189,116.0 193,118.9 197,122.2 201,124.5 205,127.2 209,130.8 213,132.2 217,133.4 221,134.9 225,133.5 229,131.4 233,130.5 237,129.1 241,126.8 245,123.3 249,117.9 253,112.0 257,108.1 261,103.4 265,100.1 269,99.0 273,98.2 277,96.7 281,95.5 285,95.0 289,97.0 293,100.2 297,105.4 301,108.6 305,111.6 309,116.2 313,118.3 317,121.5 321,123.1 325,122.9 329,122.0 333,121.0 337,122.6 341,125.3 345,126.4 349,126.4 353,125.8 357,126.1 361,126.4 365,127.5 369,129.7 373,131.5 377,133.4 381,138.2 385,141.7 389,144.3 393,146.0 397,145.4 401,145.8 405,147.6 409,148.7 413,151.3 417,154.3 421,154.5 425,155.4 429,157.9 433,158.8 437,156.3 441,155.6 445,156.8 449,159.1 453,160.9 457,160.8 461,157.2 465,152.0 469,146.3 473,140.9 477,136.1 481,129.0 485,128.5 489,129.5 493,131.3 497,132.3 501,133.6 505,132.4 509,134.0 513,134.9 517,139.6 521,147.0 525,153.4 529,159.0 533,164.6 537,173.2 541,175.0 545,176.2 549,179.5 553,185.7 557,190.8 561,197.2 565,201.8 569,207.6 573,211.7 577,215.8 581,220.8 585,226.1 589,230.6 593,234.2 597,236.9 601,241.5 605,246.2 609,250.5 613,256.4 617,261.1 621,266.0 625,270.6 629,276.9 633,283.5 637,290.1 641,296.6 645,303.7 649,310.6 653,316.4 657,322.3 661,325.2 665,325.5 669,325.2 673,327.2 677,329.2 681,331.0 685,331.1 689,330.2 693,327.8 697,325.5 701,323.4 705,321.9 709,322.3 713,321.4 717,322.3 721,324.2 725,325.9 729,325.8 733,326.8 737,327.6 741,330.1 745,334.5 749,341.2 753,349.8 757,358.9 761,366.5 765,371.8 769,379.2 773,387.1 777,394.0 781,401.2 785,410.6 789,418.2 793,427.3 797,436.0 801,442.4 805,447.2 809,451.1 813,453.4 817,458.0 821,462.9 825,466.2 829,467.6 833,468.6 837,470.9 841,472.5 845,473.3 849,471.2 853,470.2 857,467.8 861,466.0 865,464.4 869,462.1 873,457.7 877,453.7 881,450.0 885,448.4 889,450.2 893,448.6 897,446.3 901,445.2 905,446.5 909,446.2 913,449.3 917,452.6 921,455.7 925,461.0 929,467.4 933,474.7 937,480.8 941,485.1 945,486.5 949,488.6 953,491.0 957,493.0 961,494.7 965,495.8 969,493.2 973,490.8 977,488.4 981,484.0 985,482.3 989,481.4 993,481.1 997,480.4 1001,479.7 1005,481.1 1009,481.6 1013,482.3 1017,482.9 1021,484.2 1025,487.2 1029,490.2 1033,492.2 1037,494.7 1041,496.5 1045,496.5 1049,497.1 1053,499.0 1057,499.9 1061,498.8 1065,498.4 1069,499.1 1073,500.0 1077,499.5 1081,497.2 1085,494.6 1089,492.1 1093,489.6 1097,485.5 1101,482.2 1105,480.3 1109,478.5 1113,478.3 1117,477.7 1121,476.4 1125,474.4 1129,472.6 1133,471.9 1137,473.5 1141,475.8 1145,477.9 1149,481.4 1153,483.3 1157,485.5 1161,486.3 1165,487.5 1169,488.1 1173,489.9 1177,493.7 1181,497.2 1185,497.7 1189,499.2 1193,499.5 1197,499.1 1201,499.7 1205,500.7 1209,503.3 1213,504.9 1217,505.9 1221,505.3 1225,502.4 1229,498.6 1233,494.2 1237,489.4 1241,486.6 1245,483.2 1249,483.2 1253,482.6 1257,482.3 1261,480.1 1265,476.7 1269,474.6 1273,473.0 1277,472.9 1281,474.5 1285,476.2 1289,476.9 1293,479.1 1297,480.7 1301,482.0 1305,479.7 1309,478.8 1313,477.0 1317,477.3 1321,479.1 1325,477.8 1329,475.9 1333,472.7 1337,470.7" fill="none" stroke="#ff0000" stroke-width="1"/>
<polyline points="0,119.5 1,119.0 5,113.4 9,110.5 13,109.7 17,105.0 21,110.9 25,112.7 29,115.5 33,114.9 37,115.0 41,106.7 45,101.3 49,95.7 53,93.4 57,93.0 61,97.3 65,104.4 69,109.9 73,108.8 77,105.0 81,99.1 85,95.7 89,90.6 93,91.2 97,92.2 101,96.0 105,95.0 109,98.8 113,92.2 117,87.1 121,80.4 125,76.8 129,72.8 133,78.3 137,86.3 141,96.0 145,103.9 149,109.8 153,109.5 157,108.4 161,108.6 165,108.4 169,113.3 173,121.9 177,123.4 181,122.9 185,121.1 189,120.6 193,124.2 197,133.3 201,140.5 205,148.7 209,151.0 213,145.6 217,140.0 221,137.7 225,130.8 229,123.4 233,118.8 237,110.8 241,98.3 245,92.0 249,86.5 253,81.4 257,81.6 261,83.1 265,86.0 269,92.7 273,101.3 277,105.8 281,108.8 285,109.3 289,113.1 293,116.3 297,122.7 301,128.8 305,132.9 309,135.2 313,132.4 317,128.2 321,126.5 325,124.2 329,117.4 333,113.2 337,111.7 341,115.4 345,122.9 349,128.8 353,136.3 357,138.7 361,136.1 365,138.3 369,141.7 373,143.9 377,147.1 381,157.4 385,157.2 389,154.1 393,152.5 397,148.7 401,144.2 405,145.2 409,148.5 413,153.6 417,161.2 421,162.7 425,163.5 429,169.9 433,167.9 437,162.9 441,160.2 445,158.2 449,155.9 453,154.6 457,156.8 461,149.7 465,135.0 469,117.6 473,105.2 477,93.4 481,84.5 485,104.2 489,121.0 493,136.0 497,149.8 501,171.1 505,166.7 509,167.3 513,166.9 517,170.1 521,172.5 525,176.3 529,175.0 533,176.6 537,178.6 541,182.5 545,184.9 549,193.5 553,209.0 557,220.2 561,228.8 565,239.0 569,245.8 573,242.7 577,242.7 581,242.4 585,243.0 589,240.9 593,241.9 597,241.6 601,242.8 605,249.9 609,264.6 613,282.2 617,296.4 621,307.8 625,313.9 629,316.6 633,318.7 637,323.6 641,328.7 645,333.6 649,336.3 653,333.7 657,332.8 661,330.0 665,325.8 669,323.2 673,326.6 677,327.1 681,330.1 685,332.2 689,332.5 693,325.2 697,318.4 701,312.4 705,310.6 709,311.6 713,315.0 717,320.9 721,327.9 725,334.6 729,336.6 733,342.1 737,345.1 741,348.5 745,356.5 749,368.2 753,382.9 757,400.2 761,412.5 765,416.1 769,421.5 773,425.2 777,426.2 781,431.8 785,445.1 789,451.1 793,457.7 797,466.0 801,471.9 805,471.0 809,475.2 813,473.3 817,474.1 821,473.6 825,474.5 829,471.3 833,468.6 837,467.9 841,471.9 845,470.9 849,467.9 853,470.6 857,463.2 861,452.8 865,450.3 869,447.9 873,439.3 877,434.0 881,429.5 885,426.6 889,435.2 893,442.3 897,451.2 901,457.6 905,462.5 909,459.3 913,465.1 917,470.6 921,479.6 925,488.5 929,498.7 933,505.1 937,508.5 941,508.9 945,506.6 949,501.6 953,496.8 957,491.5 961,489.4 965,485.3 969,478.1 973,470.0 977,466.9 981,458.6 985,461.0 989,472.2 993,481.5 997,486.6 1001,494.7 1005,498.2 1009,497.2 1013,494.7 1017,496.3 1021,497.6 1025,495.3 1029,494.3 1033,494.6 1037,491.7 1041,495.5 1045,498.1 1049,500.7 1053,505.8 1057,509.2 1061,504.7 1065,502.4 1069,500.4 1073,498.9 1077,496.5 1081,490.9 1085,483.8 1089,475.0 1093,462.6 1097,456.4 1101,456.1 1105,460.7 1109,467.6 1113,477.6 1117,482.9 1121,486.2 1125,483.9 1129,482.3 1133,478.6 1137,479.1 1141,482.0 1145,484.8 1149,487.2 1153,488.4 1157,489.7 1161,490.0 1165,494.4 1169,496.5 1173,501.4 1177,509.0 1181,514.5 1185,511.0 1189,509.6 1193,506.0 1197,497.2 1201,492.0 1205,495.6 1209,500.0 1213,504.8 1217,509.1 1221,510.1 1225,501.2 1229,488.3 1233,479.0 1237,468.1 1241,458.5 1245,455.8 1249,462.7 1253,464.6 1257,472.1 1261,477.4 1265,481.8 1269,480.9 1273,482.3 1277,483.9 1281,485.5 1285,487.1 1289,485.4 1293,485.1 1297,480.4 1301,476.9 1305,472.3 1309,469.9 1313,466.3 1317,467.7 1321,473.6 1325,475.6 1329,474.3 1333,471.7 1337,467.2" fill="none" stroke="#ffa500" stroke-width="1"/>
<polyline points="0,589.3 1,589.3 5,589.1 9,587.6 13,595.7 17,595.0 21,600.2 25,595.2 29,594.7 33,596.9 37,597.1 41,591.3 45,590.0 49,589.1 53,597.3 57,600.6 61,599.9 65,602.2 69,598.9 73,596.3 77,595.6 81,592.2 85,599.3 89,594.3 93,600.2 97,600.0 101,600.3 105,599.0 109,600.5 113,591.6 117,594.1 121,592.3 125,596.5 129,597.4 133,602.3 137,608.1 141,608.4 145,609.1 149,606.3 153,600.5 157,605.4 161,607.7 165,607.9 169,613.1 173,613.5 177,605.6 181,604.7 185,602.7 189,610.3 193,615.7 197,617.1 201,612.7 205,612.4 209,610.4 213,604.4 217,606.2 221,607.8 225,599.7 229,597.6 233,596.8 237,593.6 241,589.3 245,592.3 249,591.3 253,591.3 257,597.8 261,594.5 265,600.2 269,605.0 273,608.0 277,606.1 281,599.8 285,600.7 289,610.1 293,611.7 297,614.3 301,607.1 305,604.8 309,610.6 313,604.9 317,605.7 321,603.5 325,600.5 329,600.3 333,598.7 337,604.2 341,609.3 345,611.6 349,608.4 353,609.2 357,605.9 361,603.5 365,612.8 369,611.5 373,610.4 377,608.9 381,616.0 385,609.4 389,604.0 393,605.2 397,600.9 401,607.5 405,609.5 409,607.5 413,610.8 417,610.0 421,608.1 425,609.5 429,614.8 433,605.5 437,600.8 441,602.4 445,604.8 449,609.7 453,603.3 457,603.1 461,594.0 465,588.9 469,590.7 473,591.4 477,592.2 481,587.6 485,611.1 489,609.6 493,608.2 497,607.5 501,609.4 505,606.2 509,609.2 513,606.7 517,609.2 521,610.6 525,608.5 529,606.5 533,607.1 537,610.5 541,613.7 545,609.3 549,613.6 553,619.3 557,617.9 561,618.4 565,616.0 569,617.0 573,613.4 577,615.3 581,615.6 585,614.7 589,611.7 593,612.7 597,613.6 601,615.9 605,621.4 609,625.9 613,628.2 617,623.0 621,621.3 625,621.4 629,623.5 633,625.8 637,625.9 641,624.2 645,624.0 649,624.4 653,618.6 657,620.7 661,614.6 665,611.5 669,614.3 673,618.7 677,616.3 681,615.9 685,610.6 689,611.1 693,603.2 697,602.1 701,603.4 705,606.5 709,611.8 713,608.4 717,611.5 721,614.0 725,615.9 729,612.6 733,615.3 737,614.0 741,617.2 745,623.8 749,625.9 753,629.5 757,630.8 761,624.3 765,618.4 769,622.2 773,624.6 777,623.3 781,624.7 785,628.2 789,621.8 793,624.6 797,625.4 801,623.8 805,620.1 809,621.9 813,617.2 817,620.7 821,616.9 825,616.0 829,612.1 833,608.8 837,615.4 841,618.2 845,609.2 849,603.7 853,608.1 857,602.6 861,602.4 865,605.1 869,600.4 873,597.8 877,596.7 881,597.3 885,602.9 889,611.3 893,606.5 897,607.2 901,604.6 905,607.5 909,606.7 913,612.3 917,612.6 921,614.2 925,616.6 929,617.2 933,618.7 937,613.6 941,611.0 945,610.7 949,606.9 953,609.3 957,603.8 961,606.4 965,602.7 969,595.7 973,597.0 977,599.8 981,595.3 985,607.1 989,611.1 993,609.5 997,605.9 1001,605.6 1005,609.9 1009,608.8 1013,604.9 1017,606.9 1021,606.2 1025,606.2 1029,606.9 1033,604.6 1037,601.6 1041,611.2 1045,609.0 1049,609.6 1053,611.6 1057,605.2 1061,602.2 1065,604.0 1069,605.3 1073,608.2 1077,600.7 1081,593.8 1085,593.2 1089,592.1 1093,589.8 1097,593.9 1101,595.8 1105,603.7 1109,606.1 1113,607.9 1117,603.0 1121,601.3 1125,599.4 1129,603.4 1133,601.6 1137,604.4 1141,606.8 1145,604.3 1149,607.4 1153,603.1 1157,606.2 1161,606.6 1165,611.7 1169,610.3 1173,611.5 1177,617.9 1181,613.4 1185,601.9 1189,604.4 1193,601.7 1197,600.3 1201,603.3 1205,608.1 1209,611.4 1213,609.1 1217,606.3 1221,603.5 1225,593.0 1229,591.0 1233,595.6 1237,591.9 1241,591.7 1245,591.3 1249,604.9 1253,601.4 1257,604.8 1261,601.3 1265,599.9 1269,603.8 1273,603.6 1277,607.4 1281,603.5 1285,601.8 1289,600.8 1293,603.1 1297,600.0 1301,598.1 1305,594.7 1309,597.9 1313,598.2 1317,604.1 1321,609.5 1325,599.5 1329,597.0 1333,595.7 1337,597.5" fill="none" stroke="#1e90ff" stroke-width="1"/>
<rect x="1" y="663" width="1" height="25" fill="#c0c0c0"/>
<rect x="5" y="661" width="1" height="27" fill="#c0c0c0"/>
<rect x="9" y="658" width="1" height="30" fill="#c0c0c0"/>
<rect x="13" y="660" width="1" height="28" fill="#c0c0c0"/>
<rect x="17" y="660" width="1" height="28" fill="#c0c0c0"/>
<rect x="21" y="663" width="1" height="25" fill="#c0c0c0"/>
<rect x="25" y="664" width="1" height="24" fill="#c0c0c0"/>
<rect x="29" y="664" width="1" height="24" fill="#c0c0c0"/>
<rect x="33" y="665" width="1" height="23" fill="#c0c0c0"/>
<rect x="37" y="666" width="1" height="22" fill="#c0c0c0"/>
<rect x="41" y="664" width="1" height="24" fill="#c0c0c0"/>
<rect x="45" y="662" width="1" height="26" fill="#c0c0c0"/>
<rect x="49" y="661" width="1" height="27" fill="#c0c0c0"/>
<rect x="53" y="663" width="1" height="25" fill="#c0c0c0"/>
<rect x="57" y="665" width="1" height="23" fill="#c0c0c0"/>
<rect x="61" y="668" width="1" height="20" fill="#c0c0c0"/>
<rect x="65" y="670" width="1" height="18" fill="#c0c0c0"/>
<rect x="69" y="671" width="1" height="17" fill="#c0c0c0"/>
<rect x="73" y="671" width="1" height="17" fill="#c0c0c0"/>
<rect x="77" y="671" width="1" height="17" fill="#c0c0c0"/>
<rect x="81" y="670" width="1" height="18" fill="#c0c0c0"/>
<rect x="85" y="671" width="1" height="17" fill="#c0c0c0"/>
<rect x="89" y="670" width="1" height="18" fill="#c0c0c0"/>
<rect x="93" y="671" width="1" height="17" fill="#c0c0c0"/>
<rect x="97" y="673" width="1" height="15" fill="#c0c0c0"/>
<rect x="101" y="674" width="1" height="14" fill="#c0c0c0"/>
<rect x="105" y="675" width="1" height="13" fill="#c0c0c0"/>
<rect x="109" y="676" width="1" height="12" fill="#c0c0c0"/>
<rect x="113" y="673" width="1" height="15" fill="#c0c0c0"/>
<rect x="117" y="672" width="1" height="16" fill="#c0c0c0"/>
<rect x="121" y="670" width="1" height="18" fill="#c0c0c0"/>
<rect x="125" y="670" width="1" height="18" fill="#c0c0c0"/>
<rect x="129" y="671" width="1" height="17" fill="#c0c0c0"/>
<rect x="133" y="673" width="1" height="15" fill="#c0c0c0"/>
<rect x="137" y="677" width="1" height="11" fill="#c0c0c0"/>
<rect x="141" y="681" width="1" height="7" fill="#c0c0c0"/>
<rect x="145" y="684" width="1" height="4" fill="#c0c0c0"/>
<rect x="149" y="686" width="1" height="2" fill="#c0c0c0"/>
<rect x="153" y="685" width="1" height="3" fill="#c0c0c0"/>
<rect x="157" y="686" width="1" height="2" fill="#c0c0c0"/>
<rect x="161" y="687" width="1" height="2" fill="#c0c0c0"/>
<rect x="165" y="687" width="1" height="4" fill="#c0c0c0"/>
<rect x="169" y="687" width="1" height="7" fill="#c0c0c0"/>
<rect x="173" y="687" width="1" height="10" fill="#c0c0c0"/>
<rect x="177" y="687" width="1" height="9" fill="#c0c0c0"/>
<rect x="181" y="687" width="1" height="9" fill="#c0c0c0"/>
<rect x="185" y="687" width="1" height="7" fill="#c0c0c0"/>
<rect x="189" y="687" width="1" height="9" fill="#c0c0c0"/>
<rect x="193" y="687" width="1" height="13" fill="#c0c0c0"/>
<rect x="197" y="687" width="1" height="17" fill="#c0c0c0"/>
<rect x="201" y="687" width="1" height="18" fill="#c0c0c0"/>
<rect x="205" y="687" width="1" height="19" fill="#c0c0c0"/>
<rect x="209" y="687" width="1" height="18" fill="#c0c0c0"/>
<rect x="213" y="687" width="1" height="16" fill="#c0c0c0"/>
<rect x="217" y="687" width="1" height="15" fill="#c0c0c0"/>
<rect x="221" y="687" width="1" height="14" fill="#c0c0c0"/>
<rect x="225" y="687" width="1" height="11" fill="#c0c0c0"/>
<rect x="229" y="687" width="1" height="7" fill="#c0c0c0"/>
<rect x="233" y="687" width="1" height="4" fill="#c0c0c0"/>
<rect x="237" y="686" width="1" height="2" fill="#c0c0c0"/>
<rect x="241" y="681" width="1" height="7" fill="#c0c0c0"/>
<rect x="245" y="678" width="1" height="10" fill="#c0c0c0"/>
<rect x="249" y="676" width="1" height="12" fill="#c0c0c0"/>
<rect x="253" y="674" width="1" height="14" fill="#c0c0c0"/>
<rect x="257" y="674" width="1" height="14" fill="#c0c0c0"/>
<rect x="261" y="673" width="1" height="15" fill="#c0c0c0"/>
<rect x="265" y="674" width="1" height="14" fill="#c0c0c0"/>
<rect x="269" y="677" width="1" height="11" fill="#c0c0c0"/>
<rect x="273" y="680" width="1" height="8" fill="#c0c0c0"/>
<rect x="277" y="683" width="1" height="5" fill="#c0c0c0"/>
<rect x="281" y="682" width="1" height="6" fill="#c0c0c0"/>
<rect x="285" y="682" width="1" height="6" fill="#c0c0c0"/>
<rect x="289" y="686" width="1" height="2" fill="#c0c0c0"/>
<rect x="293" y="687" width="1" height="3" fill="#c0c0c0"/>
<rect x="297" y="687" width="1" height="7" fill="#c0c0c0"/>
<rect x="301" y="687" width="1" height="8" fill="#c0c0c0"/>
<rect x="305" y="687" width="1" height="8" fill="#c0c0c0"/>
<rect x="309" y="687" width="1" height="10" fill="#c0c0c0"/>
<rect x="313" y="687" width="1" height="9" fill="#c0c0c0"/>
<rect x="317" y="687" width="1" height="9" fill="#c0c0c0"/>
<rect x="321" y="687" width="1" height="8" fill="#c0c0c0"/>
<rect x="325" y="687" width="1" height="6" fill="#c0c0c0"/>
<rect x="329" y="687" width="1" height="4" fill="#c0c0c0"/>
<rect x="333" y="687" width="1" height="2" fill="#c0c0c0"/>
<rect x="337" y="687" width="1" height="2" fill="#c0c0c0"/>
<rect x="341" y="687" width="1" height="5" fill="#c0c0c0"/>
<rect x="345" y="687" width="1" height="7" fill="#c0c0c0"/>
<rect x="349" y="687" width="1" height="9" fill="#c0c0c0"/>
<rect x="353" y="687" width="1" height="10" fill="#c0c0c0"/>
<rect x="357" y="687" width="1" height="9" fill="#c0c0c0"/>
<rect x="361" y="687" width="1" height="8" fill="#c0c0c0"/>
<rect x="365" y="687" width="1" height="11" fill="#c0c0c0"/>
<rect x="369" y="687" width="1" height="13" fill="#c0c0c0"/>
<rect x="373" y="687" width="1" height="14" fill="#c0c0c0"/>
<rect x="377" y="687" width="1" height="14" fill="#c0c0c0"/>
<rect x="381" y="687" width="1" height="17" fill="#c0c0c0"/>
<rect x="385" y="687" width="1" height="17" fill="#c0c0c0"/>
<rect x="389" y="687" width="1" height="15" fill="#c0c0c0"/>
<rect x="393" y="687" width="1" height="14" fill="#c0c0c0"/>
<rect x="397" y="687" width="1" height="11" fill="#c0c0c0"/>
<rect x="401" y="687" width="1" height="11" fill="#c0c0c0"/>
<rect x="405" y="687" width="1" height="13" fill="#c0c0c0"/>
<rect x="409" y="687" width="1" height="13" fill="#c0c0c0"/>
<rect x="413" y="687" width="1" height="14" fill="#c0c0c0"/>
<rect x="417" y="687" width="1" height="15" fill="#c0c0c0"/>
<rect x="421" y="687" width="1" height="15" fill="#c0c0c0"/>
<rect x="425" y="687" width="1" height="15" fill="#c0c0c0"/>
<rect x="429" y="687" width="1" height="17" fill="#c0c0c0"/>
<rect x="433" y="687" width="1" height="16" fill="#c0c0c0"/>
<rect x="437" y="687" width="1" height="13" fill="#c0c0c0"/>
<rect x="441" y="687" width="1" height="10" fill="#c0c0c0"/>
<rect x="445" y="687" width="1" height="10" fill="#c0c0c0"/>
<rect x="449" y="687" width="1" height="11" fill="#c0c0c0"/>
<rect x="453" y="687" width="1" height="10" fill="#c0c0c0"/>
<rect x="457" y="687" width="1" height="8" fill="#c0c0c0"/>
<rect x="461" y="687" width="1" height="3" fill="#c0c0c0"/>
<rect x="465" y="681" width="1" height="7" fill="#c0c0c0"/>
<rect x="469" y="675" width="1" height="13" fill="#c0c0c0"/>
<rect x="473" y="671" width="1" height="17" fill="#c0c0c0"/>
<rect x="477" y="669" width="1" height="19" fill="#c0c0c0"/>
<rect x="481" y="664" width="1" height="24" fill="#c0c0c0"/>
<rect x="485" y="674" width="1" height="14" fill="#c0c0c0"/>
<rect x="489" y="680" width="1" height="8" fill="#c0c0c0"/>
<rect x="493" y="685" width="1" height="3" fill="#c0c0c0"/>
<rect x="497" y="687" width="1" height="2" fill="#c0c0c0"/>
<rect x="501" y="687" width="1" height="6" fill="#c0c0c0"/>
<rect x="505" y="687" width="1" height="7" fill="#c0c0c0"/>
<rect x="509" y="687" width="1" height="10" fill="#c0c0c0"/>
<rect x="513" y="687" width="1" height="11" fill="#c0c0c0"/>
<rect x="517" y="687" width="1" height="13" fill="#c0c0c0"/>
<rect x="521" y="687" width="1" height="15" fill="#c0c0c0"/>
<rect x="525" y="687" width="1" height="16" fill="#c0c0c0"/>
<rect x="529" y="687" width="1" height="15" fill="#c0c0c0"/>
<rect x="533" y="687" width="1" height="15" fill="#c0c0c0"/>
<rect x="537" y="687" width="1" height="17" fill="#c0c0c0"/>
<rect x="541" y="687" width="1" height="20" fill="#c0c0c0"/>
<rect x="545" y="687" width="1" height="20" fill="#c0c0c0"/>
<rect x="549" y="687" width="1" height="23" fill="#c0c0c0"/>
<rect x="553" y="687" width="1" height="29" fill="#c0c0c0"/>
<rect x="557" y="687" width="1" height="33" fill="#c0c0c0"/>
<rect x="561" y="687" width="1" height="36" fill="#c0c0c0"/>
<rect x="565" y="687" width="1" height="37" fill="#c0c0c0"/>
<rect x="569" y="687" width="1" height="38" fill="#c0c0c0"/>
<rect x="573" y="687" width="1" height="37" fill="#c0c0c0"/>
<rect x="577" y="687" width="1" height="37" fill="#c0c0c0"/>
<rect x="581" y="687" width="1" height="37" fill="#c0c0c0"/>
<rect x="585" y="687" width="1" height="36" fill="#c0c0c0"/>
<rect x="589" y="687" width="1" height="34" fill="#c0c0c0"/>
<rect x="593" y="687" width="1" height="33" fill="#c0c0c0"/>
<rect x="597" y="687" width="1" height="32" fill="#c0c0c0"/>
<rect x="601" y="687" width="1" height="31" fill="#c0c0c0"/>
<rect x="605" y="687" width="1" height="34" fill="#c0c0c0"/>
<rect x="609" y="687" width="1" height="39" fill="#c0c0c0"/>
<rect x="613" y="687" width="1" height="45" fill="#c0c0c0"/>
<rect x="617" y="687" width="1" height="47" fill="#c0c0c0"/>
<rect x="621" y="687" width="1" height="48" fill="#c0c0c0"/>
<rect x="625" y="687" width="1" height="48" fill="#c0c0c0"/>
<rect x="629" y="687" width="1" height="49" fill="#c0c0c0"/>
<rect x="633" y="687" width="1" height="51" fill="#c0c0c0"/>
<rect x="637" y="687" width="1" height="52" fill="#c0c0c0"/>
<rect x="641" y="687" width="1" height="52" fill="#c0c0c0"/>
<rect x="645" y="687" width="1" height="52" fill="#c0c0c0"/>
<rect x="649" y="687" width="1" height="51" fill="#c0c0c0"/>
<rect x="653" y="687" width="1" height="48" fill="#c0c0c0"/>
<rect x="657" y="687" width="1" height="46" fill="#c0c0c0"/>
<rect x="661" y="687" width="1" height="43" fill="#c0c0c0"/>
<rect x="665" y="687" width="1" height="39" fill="#c0c0c0"/>
<rect x="669" y="687" width="1" height="37" fill="#c0c0c0"/>
<rect x="673" y="687" width="1" height="37" fill="#c0c0c0"/>
<rect x="677" y="687" width="1" height="36" fill="#c0c0c0"/>
<rect x="681" y="687" width="1" height="34" fill="#c0c0c0"/>
<rect x="685" y="687" width="1" height="32" fill="#c0c0c0"/>
<rect x="689" y="687" width="1" height="29" fill="#c0c0c0"/>
<rect x="693" y="687" width="1" height="25" fill="#c0c0c0"/>
<rect x="697" y="687" width="1" height="21" fill="#c0c0c0"/>
<rect x="701" y="687" width="1" height="18" fill="#c0c0c0"/>
<rect x="705" y="687" width="1" height="16" fill="#c0c0c0"/>
<rect x="709" y="687" width="1" height="16" fill="#c0c0c0"/>
<rect x="713" y="687" width="1" height="16" fill="#c0c0c0"/>
<rect x="717" y="687" width="1" height="16" fill="#c0c0c0"/>
<rect x="721" y="687" width="1" height="17" fill="#c0c0c0"/>
<rect x="725" y="687" width="1" height="19" fill="#c0c0c0"/>
<rect x="729" y="687" width="1" height="19" fill="#c0c0c0"/>
<rect x="733" y="687" width="1" height="20" fill="#c0c0c0"/>
<rect x="737" y="687" width="1" height="20" fill="#c0c0c0"/>
<rect x="741" y="687" width="1" height="21" fill="#c0c0c0"/>
<rect x="745" y="687" width="1" height="25" fill="#c0c0c0"/>
<rect x="749" y="687" width="1" height="30" fill="#c0c0c0"/>
<rect x="753" y="687" width="1" height="35" fill="#c0c0c0"/>
<rect x="757" y="687" width="1" height="41" fill="#c0c0c0"/>
<rect x="761" y="687" width="1" height="43" fill="#c0c0c0"/>
<rect x="765" y="687" width="1" height="42" fill="#c0c0c0"/>
<rect x="769" y="687" width="1" height="44" fill="#c0c0c0"/>
<rect x="773" y="687" width="1" height="47" fill="#c0c0c0"/>
<rect x="777" y="687" width="1" height="48" fill="#c0c0c0"/>
<rect x="781" y="687" width="1" height="49" fill="#c0c0c0"/>
<rect x="785" y="687" width="1" height="52" fill="#c0c0c0"/>
<rect x="789" y="687" width="1" height="53" fill="#c0c0c0"/>
<rect x="793" y="687" width="1" height="54" fill="#c0c0c0"/>
<rect x="797" y="687" width="1" height="56" fill="#c0c0c0"/>
<rect x="801" y="687" width="1" height="56" fill="#c0c0c0"/>
<rect x="805" y="687" width="1" height="54" fill="#c0c0c0"/>
<rect x="809" y="687" width="1" height="53" fill="#c0c0c0"/>
<rect x="813" y="687" width="1" height="51" fill="#c0c0c0"/>
<rect x="817" y="687" width="1" height="50" fill="#c0c0c0"/>
<rect x="821" y="687" width="1" height="48" fill="#c0c0c0"/>
<rect x="825" y="687" width="1" height="46" fill="#c0c0c0"/>
<rect x="829" y="687" width="1" height="42" fill="#c0c0c0"/>
<rect x="833" y="687" width="1" height="38" fill="#c0c0c0"/>
<rect x="837" y="687" width="1" height="37" fill="#c0c0c0"/>
<rect x="841" y="687" width="1" height="38" fill="#c0c0c0"/>
<rect x="845" y="687" width="1" height="35" fill="#c0c0c0"/>
<rect x="849" y="687" width="1" height="30" fill="#c0c0c0"/>
<rect x="853" y="687" width="1" height="28" fill="#c0c0c0"/>
<rect x="857" y="687" width="1" height="23" fill="#c0c0c0"/>
<rect x="861" y="687" width="1" height="19" fill="#c0c0c0"/>
<rect x="865" y="687" width="1" height="17" fill="#c0c0c0"/>
<rect x="869" y="687" width="1" height="13" fill="#c0c0c0"/>
<rect x="873" y="687" width="1" height="9" fill="#c0c0c0"/>
<rect x="877" y="687" width="1" height="5" fill="#c0c0c0"/>
<rect x="881" y="687" width="1" height="1" fill="#c0c0c0"/>
<rect x="885" y="687" width="1" height="1" fill="#c0c0c0"/>
<rect x="889" y="687" width="1" height="5" fill="#c0c0c0"/>
<rect x="893" y="687" width="1" height="7" fill="#c0c0c0"/>
<rect x="897" y="687" width="1" height="8" fill="#c0c0c0"/>
<rect x="901" y="687" width="1" height="7" fill="#c0c0c0"/>
<rect x="905" y="687" width="1" height="8" fill="#c0c0c0"/>
<rect x="909" y="687" width="1" height="9" fill="#c0c0c0"/>
<rect x="913" y="687" width="1" height="12" fill="#c0c0c0"/>
<rect x="917" y="687" width="1" height="15" fill="#c0c0c0"/>
<rect x="921" y="687" width="1" height="18" fill="#c0c0c0"/>
<rect x="925" y="687" width="1" height="21" fill="#c0c0c0"/>
<rect x="929" y="687" width="1" height="24" fill="#c0c0c0"/>
<rect x="933" y="687" width="1" height="27" fill="#c0c0c0"/>
<rect x="937" y="687" width="1" height="27" fill="#c0c0c0"/>
<rect x="941" y="687" width="1" height="26" fill="#c0c0c0"/>
<rect x="945" y="687" width="1" height="25" fill="#c0c0c0"/>
<rect x="949" y="687" width="1" height="23" fill="#c0c0c0"/>
<rect x="953" y="687" width="1" height="21" fill="#c0c0c0"/>
<rect x="957" y="687" width="1" height="19" fill="#c0c0c0"/>
<rect x="961" y="687" width="1" height="17" fill="#c0c0c0"/>
<rect x="965" y="687" width="1" height="14" fill="#c0c0c0"/>
<rect x="969" y="687" width="1" height="9" fill="#c0c0c0"/>
<rect x="973" y="687" width="1" height="5" fill="#c0c0c0"/>
<rect x="977" y="687" width="1" height="3" fill="#c0c0c0"/>
<rect x="981" y="686" width="1" height="2" fill="#c0c0c0"/>
<rect x="985" y="687" width="1" height="2" fill="#c0c0c0"/>
<rect x="989" y="687" width="1" height="6" fill="#c0c0c0"/>
<rect x="993" y="687" width="1" height="8" fill="#c0c0c0"/>
<rect x="997" y="687" width="1" height="8" fill="#c0c0c0"/>
<rect x="1001" y="687" width="1" height="8" fill="#c0c0c0"/>
<rect x="1005" y="687" width="1" height="10" fill="#c0c0c0"/>
<rect x="1009" y="687" width="1" height="11" fill="#c0c0c0"/>
<rect x="1013" y="687" width="1" height="10" fill="#c0c0c0"/>
<rect x="1017" y="687" width="1" height="10" fill="#c0c0c0"/>
<rect x="1021" y="687" width="1" height="10" fill="#c0c0c0"/>
<rect x="1025" y="687" width="1" height="10" fill="#c0c0c0"/>
<rect x="1029" y="687" width="1" height="10" fill="#c0c0c0"/>
<rect x="1033" y="687" width="1" height="9" fill="#c0c0c0"/>
<rect x="1037" y="687" width="1" height="7" fill="#c0c0c0"/>
<rect x="1041" y="687" width="1" height="9" fill="#c0c0c0"/>
<rect x="1045" y="687" width="1" height="10" fill="#c0c0c0"/>
<rect x="1049" y="687" width="1" height="11" fill="#c0c0c0"/>
<rect x="1053" y="687" width="1" height="12" fill="#c0c0c0"/>
<rect x="1057" y="687" width="1" height="11" fill="#c0c0c0"/>
<rect x="1061" y="687" width="1" height="9" fill="#c0c0c0"/>
<rect x="1065" y="687" width="1" height="8" fill="#c0c0c0"/>
<rect x="1069" y="687" width="1" height="8" fill="#c0c0c0"/>
<rect x="1073" y="687" width="1" height="9" fill="#c0c0c0"/>
<rect x="1077" y="687" width="1" height="7" fill="#c0c0c0"/>
<rect x="1081" y="687" width="1" height="2" fill="#c0c0c0"/>
<rect x="1085" y="684" width="1" height="4" fill="#c0c0c0"/>
<rect x="1089" y="681" width="1" height="7" fill="#c0c0c0"/>
<rect x="1093" y="677" width="1" height="11" fill="#c0c0c0"/>
<rect x="1097" y="675" width="1" height="13" fill="#c0c0c0"/>
<rect x="1101" y="675" width="1" height="13" fill="#c0c0c0"/>
<rect x="1105" y="677" width="1" height="11" fill="#c0c0c0"/>
<rect x="1109" y="680" width="1" height="8" fill="#c0c0c0"/>
<rect x="1113" y="682" width="1" height="6" fill="#c0c0c0"/>
<rect x="1117" y="683" width="1" height="5" fill="#c0c0c0"/>
<rect x="1121" y="683" width="1" height="5" fill="#c0c0c0"/>
<rect x="1125" y="683" width="1" height="5" fill="#c0c0c0"/>
<rect x="1129" y="683" width="1" height="5" fill="#c0c0c0"/>
<rect x="1133" y="683" width="1" height="5" fill="#c0c0c0"/>
<rect x="1137" y="684" width="1" height="4" fill="#c0c0c0"/>
<rect x="1141" y="686" width="1" height="2" fill="#c0c0c0"/>
<rect x="1145" y="687" width="1" height="1" fill="#c0c0c0"/>
<rect x="1149" y="687" width="1" height="2" fill="#c0c0c0"/>
<rect x="1153" y="687" width="1" height="2" fill="#c0c0c0"/>
<rect x="1157" y="687" width="1" height="3" fill="#c0c0c0"/>
<rect x="1161" y="687" width="1" height="4" fill="#c0c0c0"/>
<rect x="1165" y="687" width="1" height="6" fill="#c0c0c0"/>
<rect x="1169" y="687" width="1" height="7" fill="#c0c0c0"/>
<rect x="1173" y="687" width="1" height="9" fill="#c0c0c0"/>
<rect x="1177" y="687" width="1" height="12" fill="#c0c0c0"/>
<rect x="1181" y="687" width="1" height="14" fill="#c0c0c0"/>
<rect x="1185" y="687" width="1" height="11" fill="#c0c0c0"/>
<rect x="1189" y="687" width="1" height="10" fill="#c0c0c0"/>
<rect x="1193" y="687" width="1" height="8" fill="#c0c0c0"/>
<rect x="1197" y="687" width="1" height="6" fill="#c0c0c0"/>
<rect x="1201" y="687" width="1" height="5" fill="#c0c0c0"/>
<rect x="1205" y="687" width="1" height="7" fill="#c0c0c0"/>
<rect x="1209" y="687" width="1" height="9" fill="#c0c0c0"/>
<rect x="1213" y="687" width="1" height="9" fill="#c0c0c0"/>
<rect x="1217" y="687" width="1" height="9" fill="#c0c0c0"/>
<rect x="1221" y="687" width="1" height="8" fill="#c0c0c0"/>
<rect x="1225" y="687" width="1" height="3" fill="#c0c0c0"/>
<rect x="1229" y="684" width="1" height="4" fill="#c0c0c0"/>
<rect x="1233" y="682" width="1" height="6" fill="#c0c0c0"/>
<rect x="1237" y="678" width="1" height="10" fill="#c0c0c0"/>
<rect x="1241" y="675" width="1" height="13" fill="#c0c0c0"/>
<rect x="1245" y="673" width="1" height="15" fill="#c0c0c0"/>
<rect x="1249" y="676" width="1" height="12" fill="#c0c0c0"/>
<rect x="1253" y="677" width="1" height="11" fill="#c0c0c0"/>
<rect x="1257" y="679" width="1" height="9" fill="#c0c0c0"/>
<rect x="1261" y="680" width="1" height="8" fill="#c0c0c0"/>
<rect x="1265" y="680" width="1" height="8" fill="#c0c0c0"/>
<rect x="1269" y="681" width="1" height="7" fill="#c0c0c0"/>
<rect x="1273" y="682" width="1" height="6" fill="#c0c0c0"/>
<rect x="1277" y="685" width="1" height="3" fill="#c0c0c0"/>
<rect x="1281" y="685" width="1" height="3" fill="#c0c0c0"/>
<rect x="1285" y="685" width="1" height="3" fill="#c0c0c0"/>
<rect x="1289" y="685" width="1" height="3" fill="#c0c0c0"/>
<rect x="1293" y="685" width="1" height="3" fill="#c0c0c0"/>
<rect x="1297" y="684" width="1" height="4" fill="#c0c0c0"/>
<rect x="1301" y="683" width="1" height="5" fill="#c0c0c0"/>
<rect x="1305" y="681" width="1" height="7" fill="#c0c0c0"/>
<rect x="1309" y="680" width="1" height="8" fill="#c0c0c0"/>
<rect x="1313" y="680" width="1" height="8" fill="#c0c0c0"/>
<rect x="1317" y="681" width="1" height="7" fill="#c0c0c0"/>
<rect x="1321" y="684" width="1" height="4" fill="#c0c0c0"/>
<rect x="1325" y="683" width="1" height="5" fill="#c0c0c0"/>
<rect x="1329" y="682" width="1" height="6" fill="#c0c0c0"/>
<rect x="1333" y="680" width="1" height="8" fill="#c0c0c0"/>
<rect x="1337" y="679" width="1" height="9" fill="#c0c0c0"/>
<rect x="0" y="26" width="1682" height="1" fill="#000"/>
<rect x="0" y="552" width="1682" height="1" fill="#000"/>
<rect x="0" y="26" width="1" height="527" fill="#000"/>
<rect x="1681" y="26" width="1" height="527" fill="#000"/>
<rect x="0" y="554" width="1682" height="1" fill="#000"/>
<rect x="0" y="650" width="1682" height="1" fill="#000"/>
<rect x="0" y="554" width="1" height="97" fill="#000"/>
<rect x="1681" y="554" width="1" height="97" fill="#000"/>
<rect x="0" y="652" width="1682" height="1" fill="#000"/>
<rect x="0" y="747" width="1682" height="1" fill="#000"/>
<rect x="0" y="652" width="1" height="96" fill="#000"/>
<rect x="1681" y="652" width="1" height="96" fill="#000"/>
<rect x="2" y="584" width="3" height="1" fill="#c0c0c0"/>
<rect x="8" y="584" width="3" height="1" fill="#c0c0c0"/>
<rect x="14" y="584" width="3" height="1" fill="#c0c0c0"/>
<rect x="20" y="584" width="3" height="1" fill="#c0c0c0"/>
<rect x="26" y="584" width="3" height="1" fill="#c0c0c0"/>
<rect x="32" y="584" width="3" height="1" fill="#c0c0c0"/>
<rect x="38" y="584" width="3" height="1" fill="#c0c0c0"/>
<rect x="44" y="584" width="3" height="1" fill="#c0c0c0"/>
<rect x="50" y="584" width="3" height="1" fill="#c0c0c0"/>
<rect x="56" y="584" width="3" height="1" fill="#c0c0c0"/>
<rect x="62" y="584" width="3" height="1" fill="#c0c0c0"/>
<rect x="68" y="584" width="3" height="1" fill="#c0c0c0"/>
<rect x="74" y="584" width="3" height="1" fill="#c0c0c0"/>
<rect x="80" y="584" width="3" height="1" fill="#c0c0c0"/>
<rect x="86" y="584" width="3" height="1" fill="#c0c0c0"/>
<rect x="92" y="584" width="3" height="1" fill="#c0c0c0"/>
<rect x="98" y="584" width="3" height="1" fill="#c0c0c0"/>
<rect x="104" y="584" width="3" height="1" fill="#c0c0c0"/>
<rect x="110" y="584" width="3" height="1" fill="#c0c0c0"/>
<rect x="116" y="584" width="3" height="1" fill="#c0c0c0"/>
<rect x="122" y="584" width="3" height="1" fill="#c0c0c0"/>
<rect x="128" y="584" width="3" height="1" fill="#c0c0c0"/>
<rect x="134" y="584" width="3" height="1" fill="#c0c0c0"/>
<rect x="140" y="584" width="3" height="1" fill="#c0c0c0"/>
<rect x="146" y="584" width="3" height="1" fill="#c0c0c0"/>
<rect x="152" y="584" width="3" height="1" fill="#c0c0c0"/>
<rect x="158" y="584" width="3" height="1" fill="#c0c0c0"/>
<rect x="164" y="584" width="3" height="1" fill="#c0c0c0"/>
<rect x="170" y="584" width="3" height="1" fill="#c0c0c0"/>
<rect x="176" y="584" width="3" height="1" fill="#c0c0c0"/>
<rect x="182" y="584" width="3" height="1" fill="#c0c0c0"/>
<rect x="188" y="584" width="3" height="1" fill="#c0c0c0"/>
<rect x="194" y="584" width="3" height="1" fill="#c0c0c0"/>
<rect x="200" y="584" width="3" height="1" fill="#c0c0c0"/>
<rect x="206" y="584" width="3" height="1" fill="#c0c0c0"/>
<rect x="212" y="584" width="3" height="1" fill="#c0c0c0"/>
<rect x="218" y="584" width="3" height="1" fill="#c0c0c0"/>
<rect x="224" y="584" width="3" height="1" fill="#c0c0c0"/>
<rect x="230" y="584" width="3" height="1" fill="#c0c0c0"/>
<rect x="236" y="584" width="3" height="1" fill="#c0c0c0"/>
<rect x="242" y="584" width="3" height="1" fill="#c0c0c0"/>
<rect x="248" y="584" width="3" height="1" fill="#c0c0c0"/>
<rect x="254" y="584" width="3" height="1" fill="#c0c0c0"/>
<rect x="260" y="584" width="3" height="1" fill="#c0c0c0"/>
<rect x="266" y="584" width="3" height="1" fill="#c0c0c0"/>
<rect x="272" y="584" width="3" height="1" fill="#c0c0c0"/>
<rect x="278" y="584" width="3" height="1" fill="#c0c0c0"/>
<rect x="284" y="584" width="3" height="1" fill="#c0c0c0"/>
<rect x="290" y="584" width="3" height="1" fill="#c0c0c0"/>
<rect x="296" y="584" width="3" height="1" fill="#c0c0c0"/>
<rect x="302" y="584" width="3" height="1" fill="#c0c0c0"/>
<rect x="308" y="584" width="3" height="1" fill="#c0c0c0"/>
<rect x="314" y="584" width="3" height="1" fill="#c0c0c0"/>
<rect x="320" y="584" width="3" height="1" fill="#c0c0c0"/>
<rect x="326" y="584" width="3" height="1" fill="#c0c0c0"/>
<rect x="332" y="584" width="3" height="1" fill="#c0c0c0"/>
<rect x="338" y="584" width="3" height="1" fill="#c0c0c0"/>
<rect x="344" y="584" width="3" height="1" fill="#c0c0c0"/>
<rect x="350" y="584" width="3" height="1" fill="#c0c0c0"/>
<rect x="356" y="584" width="3" height="1" fill="#c0c0c0"/>
<rect x="362" y="584" width="3" height="1" fill="#c0c0c0"/>
<rect x="368" y="584" width="3" height="1" fill="#c0c0c0"/>
<rect x="374" y="584" width="3" height="1" fill="#c0c0c0"/>
<rect x="380" y="584" width="3" height="1" fill="#c0c0c0"/>
<rect x="386" y="584" width="3" height="1" fill="#c0c0c0"/>
<rect x="392" y="584" width="3" height="1" fill="#c0c0c0"/>
<rect x="398" y="584" width="3" height="1" fill="#c0c0c0"/>
<rect x="404" y="584" width="3" height="1" fill="#c0c0c0"/>
<rect x="410" y="584" width="3" height="1" fill="#c0c0c0"/>
<rect x="416" y="584" width="3" height="1" fill="#c0c0c0"/>
<rect x="422" y="584" width="3" height="1" fill="#c0c0c0"/>
<rect x="428" y="584" width="3" height="1" fill="#c0c0c0"/>
<rect x="434" y="584" width="3" height="1" fill="#c0c0c0"/>
<rect x="440" y="584" width="3" height="1" fill="#c0c0c0"/>
<rect x="446" y="584" width="3" height="1" fill="#c0c0c0"/>
<rect x="452" y="584" width="3" height="1" fill="#c0c0c0"/>
<rect x="458" y="584" width="3" height="1" fill="#c0c0c0"/>
<rect x="464" y="584" width="3" height="1" fill="#c0c0c0"/>
<rect x="470" y="584" width="3" height="1" fill="#c0c0c0"/>
<rect x="476" y="584" width="3" height="1" fill="#c0c0c0"/>
<rect x="482" y="584" width="3" height="1" fill="#c0c0c0"/>
<rect x="488" y="584" width="3" height="1" fill="#c0c0c0"/>
<rect x="494" y="584" width="3" height="1" fill="#c0c0c0"/>
<rect x="500" y="584" width="3" height="1" fill="#c0c0c0"/>
<rect x="506" y="584" width="3" height="1" fill="#c0c0c0"/>
<rect x="512" y="584" width="3" height="1" fill="#c0c0c0"/>
<rect x="518" y="584" width="3" height="1" fill="#c0c0c0"/>
<rect x="524" y="584" width="3" height="1" fill="#c0c0c0"/>
<rect x="530" y="584" width="3" height="1" fill="#c0c0c0"/>
<rect x="536" y="584" width="3" height="1" fill="#c0c0c0"/>
<rect x="542" y="584" width="3" height="1" fill="#c0c0c0"/>
<rect x="548" y="584" width="3" height="1" fill="#c0c0c0"/>
<rect x="554" y="584" width="3" height="1" fill="#c0c0c0"/>
<rect x="560" y="584" width="3" height="1" fill="#c0c0c0"/>
<rect x="566" y="584" width="3" height="1" fill="#c0c0c0"/>
<rect x="572" y="584" width="3" height="1" fill="#c0c0c0"/>
<rect x="578" y="584" width="3" height="1" fill="#c0c0c0"/>
<rect x="584" y="584" width="3" height="1" fill="#c0c0c0"/>
<rect x="590" y="584" width="3" height="1" fill="#c0c0c0"/>
<rect x="596" y="584" width="3" height="1" fill="#c0c0c0"/>
<rect x="602" y="584" width="3" height="1" fill="#c0c0c0"/>
<rect x="608" y="584" width="3" height="1" fill="#c0c0c0"/>
<rect x="614" y="584" width="3" height="1" fill="#c0c0c0"/>
<rect x="620" y="584" width="3" height="1" fill="#c0c0c0"/>
<rect x="626" y="584" width="3" height="1" fill="#c0c0c0"/>
<rect x="632" y="584" width="3" height="1" fill="#c0c0c0"/>
<rect x="638" y="584" width="3" height="1" fill="#c0c0c0"/>
<rect x="644" y="584" width="3" height="1" fill="#c0c0c0"/>
<rect x="650" y="584" width="3" height="1" fill="#c0c0c0"/>
<rect x="656" y="584" width="3" height="1" fill="#c0c0c0"/>
<rect x="662" y="584" width="3" height="1" fill="#c0c0c0"/>
<rect x="668" y="584" width="3" height="1" fill="#c0c0c0"/>
<rect x="674" y="584" width="3" height="1" fill="#c0c0c0"/>
<rect x="680" y="584" width="3" height="1" fill="#c0c0c0"/>
<rect x="686" y="584" width="3" height="1" fill="#c0c0c0"/>
<rect x="692" y="584" width="3" height="1" fill="#c0c0c0"/>
<rect x="698" y="584" width="3" height="1" fill="#c0c0c0"/>
<rect x="704" y="584" width="3" height="1" fill="#c0c0c0"/>
<rect x="710" y="584" width="3" height="1" fill="#c0c0c0"/>
<rect x="716" y="584" width="3" height="1" fill="#c0c0c0"/>
<rect x="722" y="584" width="3" height="1" fill="#c0c0c0"/>
<rect x="728" y="584" width="3" height="1" fill="#c0c0c0"/>
<rect x="734" y="584" width="3" height="1" fill="#c0c0c0"/>
<rect x="740" y="584" width="3" height="1" fill="#c0c0c0"/>
<rect x="746" y="584" width="3" height="1" fill="#c0c0c0"/>
<rect x="752" y="584" width="3" height="1" fill="#c0c0c0"/>
<rect x="758" y="584" width="3" height="1" fill="#c0c0c0"/>
<rect x="764" y="584" width="3" height="1" fill="#c0c0c0"/>
<rect x="770" y="584" width="3" height="1" fill="#c0c0c0"/>
<rect x="776" y="584" width="3" height="1" fill="#c0c0c0"/>
<rect x="782" y="584" width="3" height="1" fill="#c0c0c0"/>
<rect x="788" y="584" width="3" height="1" fill="#c0c0c0"/>
<rect x="794" y="584" width="3" height="1" fill="#c0c0c0"/>
<rect x="800" y="584" width="3" height="1" fill="#c0c0c0"/>
<rect x="806" y="584" width="3" height="1" fill="#c0c0c0"/>
<rect x="812" y="584" width="3" height="1" fill="#c0c0c0"/>
<rect x="818" y="584" width="3" height="1" fill="#c0c0c0"/>
<rect x="824" y="584" width="3" height="1" fill="#c0c0c0"/>
<rect x="830" y="584" width="3" height="1" fill="#c0c0c0"/>
<rect x="836" y="584" width="3" height="1" fill="#c0c0c0"/>
<rect x="842" y="584" width="3" height="1" fill="#c0c0c0"/>
<rect x="848" y="584" width="3" height="1" fill="#c0c0c0"/>
<rect x="854" y="584" width="3" height="1" fill="#c0c0c0"/>
<rect x="860" y="584" width="3" height="1" fill="#c0c0c0"/>
<rect x="866" y="584" width="3" height="1" fill="#c0c0c0"/>
<rect x="872" y="584" width="3" height="1" fill="#c0c0c0"/>
<rect x="878" y="584" width="3" height="1" fill="#c0c0c0"/>
<rect x="884" y="584" width="3" height="1" fill="#c0c0c0"/>
<rect x="890" y="584" width="3" height="1" fill="#c0c0c0"/>
<rect x="896" y="584" width="3" height="1" fill="#c0c0c0"/>
<rect x="902" y="584" width="3" height="1" fill="#c0c0c0"/>
<rect x="908" y="584" width="3" height="1" fill="#c0c0c0"/>
<rect x="914" y="584" width="3" height="1" fill="#c0c0c0"/>
<rect x="920" y="584" width="3" height="1" fill="#c0c0c0"/>
<rect x="926" y="584" width="3" height="1" fill="#c0c0c0"/>
<rect x="932" y="584" width="3" height="1" fill="#c0c0c0"/>
<rect x="938" y="584" width="3" height="1" fill="#c0c0c0"/>
<rect x="944" y="584" width="3" height="1" fill="#c0c0c0"/>
<rect x="950" y="584" width="3" height="1" fill="#c0c0c0"/>
<rect x="956" y="584" width="3" height="1" fill="#c0c0c0"/>
<rect x="962" y="584" width="3" height="1" fill="#c0c0c0"/>
<rect x="968" y="584" width="3" height="1" fill="#c0c0c0"/>
<rect x="974" y="584" width="3" height="1" fill="#c0c0c0"/>
<rect x="980" y="584" width="3" height="1" fill="#c0c0c0"/>
<rect x="986" y="584" width="3" height="1" fill="#c0c0c0"/>
<rect x="992" y="584" width="3" height="1" fill="#c0c0c0"/>
<rect x="998" y="584" width="3" height="1" fill="#c0c0c0"/>
<rect x="1004" y="584" width="3" height="1" fill="#c0c0c0"/>
<rect x="1010" y="584" width="3" height="1" fill="#c0c0c0"/>
<rect x="1016" y="584" width="3" height="1" fill="#c0c0c0"/>
<rect x="1022" y="584" width="3" height="1" fill="#c0c0c0"/>
<rect x="1028" y="584" width="3" height="1" fill="#c0c0c0"/>
<rect x="1034" y="584" width="3" height="1" fill="#c0c0c0"/>
<rect x="1040" y="584" width="3" height="1" fill="#c0c0c0"/>
<rect x="1046" y="584" width="3" height="1" fill="#c0c0c0"/>
<rect x="1052" y="584" width="3" height="1" fill="#c0c0c0"/>
<rect x="1058" y="584" width="3" height="1" fill="#c0c0c0"/>
<rect x="1064" y="584" width="3" height="1" fill="#c0c0c0"/>
<rect x="1070" y="584" width="3" height="1" fill="#c0c0c0"/>
<rect x="1076" y="584" width="3" height="1" fill="#c0c0c0"/>
<rect x="1082" y="584" width="3" height="1" fill="#c0c0c0"/>
<rect x="1088" y="584" width="3" height="1" fill="#c0c0c0"/>
<rect x="1094" y="584" width="3" height="1" fill="#c0c0c0"/>
<rect x="1100" y="584" width="3" height="1" fill="#c0c0c0"/>
<rect x="1106" y="584" width="3" height="1" fill="#c0c0c0"/>
<rect x="1112" y="584" width="3" height="1" fill="#c0c0c0"/>
<rect x="1118" y="584" width="3" height="1" fill="#c0c0c0"/>
<rect x="1124" y="584" width="3" height="1" fill="#c0c0c0"/>
<rect x="1130" y="584" width="3" height="1" fill="#c0c0c0"/>
<rect x="1136" y="584" width="3" height="1" fill="#c0c0c0"/>
<rect x="1142" y="584" width="3" height="1" fill="#c0c0c0"/>
<rect x="1148" y="584" width="3" height="1" fill="#c0c0c0"/>
<rect x="1154" y="584" width="3" height="1" fill="#c0c0c0"/>
<rect x="1160" y="584" width="3" height="1" fill="#c0c0c0"/>
<rect x="1166" y="584" width="3" height="1" fill="#c0c0c0"/>
<rect x="1172" y="584" width="3" height="1" fill="#c0c0c0"/>
<rect x="1178" y="584" width="3" height="1" fill="#c0c0c0"/>
<rect x="1184" y="584" width="3" height="1" fill="#c0c0c0"/>
<rect x="1190" y="584" width="3" height="1" fill="#c0c0c0"/>
<rect x="1196" y="584" width="3" height="1" fill="#c0c0c0"/>
<rect x="1202" y="584" width="3" height="1" fill="#c0c0c0"/>
<rect x="1208" y="584" width="3" height="1" fill="#c0c0c0"/>
<rect x="1214" y="584" width="3" height="1" fill="#c0c0c0"/>
<rect x="1220" y="584" width="3" height="1" fill="#c0c0c0"/>
<rect x="1226" y="584" width="3" height="1" fill="#c0c0c0"/>
<rect x="1232" y="584" width="3" height="1" fill="#c0c0c0"/>
<rect x="1238" y="584" width="3" height="1" fill="#c0c0c0"/>
<rect x="1244" y="584" width="3" height="1" fill="#c0c0c0"/>
<rect x="1250" y="584" width="3" height="1" fill="#c0c0c0"/>
<rect x="1256" y="584" width="3" height="1" fill="#c0c0c0"/>
<rect x="1262" y="584" width="3" height="1" fill="#c0c0c0"/>
<rect x="1268" y="584" width="3" height="1" fill="#c0c0c0"/>
<rect x="1274" y="584" width="3" height="1" fill="#c0c0c0"/>
<rect x="1280" y="584" width="3" height="1" fill="#c0c0c0"/>
<rect x="1286" y="584" width="3" height="1" fill="#c0c0c0"/>
<rect x="1292" y="584" width="3" height="1" fill="#c0c0c0"/>
<rect x="1298" y="584" width="3" height="1" fill="#c0c0c0"/>
<rect x="1304" y="584" width="3" height="1" fill="#c0c0c0"/>
<rect x="1310" y="584" width="3" height="1" fill="#c0c0c0"/>
<rect x="1316" y="584" width="3" height="1" fill="#c0c0c0"/>
<rect x="1322" y="584" width="3" height="1" fill="#c0c0c0"/>
<rect x="1328" y="584" width="3" height="1" fill="#c0c0c0"/>
<rect x="1334" y="584" width="3" height="1" fill="#c0c0c0"/>
<rect x="1340" y="584" width="3" height="1" fill="#c0c0c0"/>
<rect x="1346" y="584" width="3" height="1" fill="#c0c0c0"/>
<rect x="1352" y="584" width="3" height="1" fill="#c0c0c0"/>
<rect x="1358" y="584" width="3" height="1" fill="#c0c0c0"/>
<rect x="1364" y="584" width="3" height="1" fill="#c0c0c0"/>
<rect x="1370" y="584" width="3" height="1" fill="#c0c0c0"/>
<rect x="1376" y="584" width="3" height="1" fill="#c0c0c0"/>
<rect x="1382" y="584" width="3" height="1" fill="#c0c0c0"/>
<rect x="1388" y="584" width="3" height="1" fill="#c0c0c0"/>
<rect x="1394" y="584" width="3" height="1" fill="#c0c0c0"/>
<rect x="1400" y="584" width="3" height="1" fill="#c0c0c0"/>
<rect x="1406" y="584" width="3" height="1" fill="#c0c0c0"/>
<rect x="1412" y="584" width="3" height="1" fill="#c0c0c0"/>
<rect x="1418" y="584" width="3" height="1" fill="#c0c0c0"/>
<rect x="1424" y="584" width="3" height="1" fill="#c0c0c0"/>
<rect x="1430" y="584" width="3" height="1" fill="#c0c0c0"/>
<rect x="1436" y="584" width="3" height="1" fill="#c0c0c0"/>
<rect x="1442" y="584" width="3" height="1" fill="#c0c0c0"/>
<rect x="1448" y="584" width="3" height="1" fill="#c0c0c0"/>
<rect x="1454" y="584" width="3" height="1" fill="#c0c0c0"/>
<rect x="1460" y="584" width="3" height="1" fill="#c0c0c0"/>
<rect x="1466" y="584" width="3" height="1" fill="#c0c0c0"/>
<rect x="1472" y="584" width="3" height="1" fill="#c0c0c0"/>
<rect x="1478" y="584" width="3" height="1" fill="#c0c0c0"/>
<rect x="1484" y="584" width="3" height="1" fill="#c0c0c0"/>
<rect x="1490" y="584" width="3" height="1" fill="#c0c0c0"/>
<rect x="1496" y="584" width="3" height="1" fill="#c0c0c0"/>
<rect x="1502" y="584" width="3" height="1" fill="#c0c0c0"/>
<rect x="1508" y="584" width="3" height="1" fill="#c0c0c0"/>
<rect x="1514" y="584" width="3" height="1" fill="#c0c0c0"/>
<rect x="1520" y="584" width="3" height="1" fill="#c0c0c0"/>
<rect x="1526" y="584" width="3" height="1" fill="#c0c0c0"/>
<rect x="1532" y="584" width="3" height="1" fill="#c0c0c0"/>
<rect x="1538" y="584" width="3" height="1" fill="#c0c0c0"/>
<rect x="1544" y="584" width="3" height="1" fill="#c0c0c0"/>
<rect x="1550" y="584" width="3" height="1" fill="#c0c0c0"/>
<rect x="1556" y="584" width="3" height="1" fill="#c0c0c0"/>
<rect x="1562" y="584" width="3" height="1" fill="#c0c0c0"/>
<rect x="1568" y="584" width="3" height="1" fill="#c0c0c0"/>
<rect x="1574" y="584" width="3" height="1" fill="#c0c0c0"/>
<rect x="1580" y="584" width="3" height="1" fill="#c0c0c0"/>
<rect x="1586" y="584" width="3" height="1" fill="#c0c0c0"/>
<rect x="1592" y="584" width="3" height="1" fill="#c0c0c0"/>
<rect x="1598" y="584" width="3" height="1" fill="#c0c0c0"/>
<rect x="1604" y="584" width="3" height="1" fill="#c0c0c0"/>
<rect x="1610" y="584" width="3" height="1" fill="#c0c0c0"/>
<rect x="1616" y="584" width="3" height="1" fill="#c0c0c0"/>
<rect x="1622" y="584" width="3" height="1" fill="#c0c0c0"/>
<rect x="1628" y="584" width="3" height="1" fill="#c0c0c0"/>
<rect x="1634" y="584" width="3" height="1" fill="#c0c0c0"/>
<rect x="1640" y="584" width="3" height="1" fill="#c0c0c0"/>
<rect x="1646" y="584" width="3" height="1" fill="#c0c0c0"/>
<rect x="1652" y="584" width="3" height="1" fill="#c0c0c0"/>
<rect x="1658" y="584" width="3" height="1" fill="#c0c0c0"/>
<rect x="1664" y="584" width="3" height="1" fill="#c0c0c0"/>
<rect x="1670" y="584" width="3" height="1" fill="#c0c0c0"/>
<rect x="1676" y="584" width="3" height="1" fill="#c0c0c0"/>
<rect x="2" y="621" width="3" height="1" fill="#c0c0c0"/>
<rect x="8" y="621" width="3" height="1" fill="#c0c0c0"/>
<rect x="14" y="621" width="3" height="1" fill="#c0c0c0"/>
<rect x="20" y="621" width="3" height="1" fill="#c0c0c0"/>
<rect x="26" y="621" width="3" height="1" fill="#c0c0c0"/>
<rect x="32" y="621" width="3" height="1" fill="#c0c0c0"/>
<rect x="38" y="621" width="3" height="1" fill="#c0c0c0"/>
<rect x="44" y="621" width="3" height="1" fill="#c0c0c0"/>
<rect x="50" y="621" width="3" height="1" fill="#c0c0c0"/>
<rect x="56" y="621" width="3" height="1" fill="#c0c0c0"/>
<rect x="62" y="621" width="3" height="1" fill="#c0c0c0"/>
<rect x="68" y="621" width="3" height="1" fill="#c0c0c0"/>
<rect x="74" y="621" width="3" height="1" fill="#c0c0c0"/>
<rect x="80" y="621" width="3" height="1" fill="#c0c0c0"/>
<rect x="86" y="621" width="3" height="1" fill="#c0c0c0"/>
<rect x="92" y="621" width="3" height="1" fill="#c0c0c0"/>
<rect x="98" y="621" width="3" height="1" fill="#c0c0c0"/>
<rect x="104" y="621" width="3" height="1" fill="#c0c0c0"/>
<rect x="110" y="621" width="3" height="1" fill="#c0c0c0"/>
<rect x="116" y="621" width="3" height="1" fill="#c0c0c0"/>
<rect x="122" y="621" width="3" height="1" fill="#c0c0c0"/>
<rect x="128" y="621" width="3" height="1" fill="#c0c0c0"/>
<rect x="134" y="621" width="3" height="1" fill="#c0c0c0"/>
<rect x="140" y="621" width="3" height="1" fill="#c0c0c0"/>
<rect x="146" y="621" width="3" height="1" fill="#c0c0c0"/>
<rect x="152" y="621" width="3" height="1" fill="#c0c0c0"/>
<rect x="158" y="621" width="3" height="1" fill="#c0c0c0"/>
<rect x="164" y="621" width="3" height="1" fill="#c0c0c0"/>
<rect x="170" y="621" width="3" height="1" fill="#c0c0c0"/>
<rect x="176" y="621" width="3" height="1" fill="#c0c0c0"/>
<rect x="182" y="621" width="3" height="1" fill="#c0c0c0"/>
<rect x="188" y="621" width="3" height="1" fill="#c0c0c0"/>
<rect x="194" y="621" width="3" height="1" fill="#c0c0c0"/>
<rect x="200" y="621" width="3" height="1" fill="#c0c0c0"/>
<rect x="206" y="621" width="3" height="1" fill="#c0c0c0"/>
<rect x="212" y="621" width="3" height="1" fill="#c0c0c0"/>
<rect x="218" y="621" width="3" height="1" fill="#c0c0c0"/>
<rect x="224" y="621" width="3" height="1" fill="#c0c0c0"/>
<rect x="230" y="621" width="3" height="1" fill="#c0c0c0"/>
<rect x="236" y="621" width="3" height="1" fill="#c0c0c0"/>
<rect x="242" y="621" width="3" height="1" fill="#c0c0c0"/>
<rect x="248" y="621" width="3" height="1" fill="#c0c0c0"/>
<rect x="254" y="621" width="3" height="1" fill="#c0c0c0"/>
<rect x="260" y="621" width="3" height="1" fill="#c0c0c0"/>
<rect x="266" y="621" width="3" height="1" fill="#c0c0c0"/>
<rect x="272" y="621" width="3" height="1" fill="#c0c0c0"/>
<rect x="278" y="621" width="3" height="1" fill="#c0c0c0"/>
<rect x="284" y="621" width="3" height="1" fill="#c0c0c0"/>
<rect x="290" y="621" width="3" height="1" fill="#c0c0c0"/>
<rect x="296" y="621" width="3" height="1" fill="#c0c0c0"/>
<rect x="302" y="621" width="3" height="1" fill="#c0c0c0"/>
<rect x="308" y="621" width="3" height="1" fill="#c0c0c0"/>
<rect x="314" y="621" width="3" height="1" fill="#c0c0c0"/>
<rect x="320" y="621" width="3" height="1" fill="#c0c0c0"/>
<rect x="326" y="621" width="3" height="1" fill="#c0c0c0"/>
<rect x="332" y="621" width="3" height="1" fill="#c0c0c0"/>
<rect x="338" y="621" width="3" height="1" fill="#c0c0c0"/>
<rect x="344" y="621" width="3" height="1" fill="#c0c0c0"/>
<rect x="350" y="621" width="3" height="1" fill="#c0c0c0"/>
<rect x="356" y="621" width="3" height="1" fill="#c0c0c0"/>
<rect x="362" y="621" width="3" height="1" fill="#c0c0c0"/>
<rect x="368" y="621" width="3" height="1" fill="#c0c0c0"/>
<rect x="374" y="621" width="3" height="1" fill="#c0c0c0"/>
<rect x="380" y="621" width="3" height="1" fill="#c0c0c0"/>
<rect x="386" y="621" width="3" height="1" fill="#c0c0c0"/>
<rect x="392" y="621" width="3" height="1" fill="#c0c0c0"/>
<rect x="398" y="621" width="3" height="1" fill="#c0c0c0"/>
<rect x="404" y="621" width="3" height="1" fill="#c0c0c0"/>
<rect x="410" y="621" width="3" height="1" fill="#c0c0c0"/>
<rect x="416" y="621" width="3" height="1" fill="#c0c0c0"/>
<rect x="422" y="621" width="3" height="1" fill="#c0c0c0"/>
<rect x="428" y="621" width="3" height="1" fill="#c0c0c0"/>
<rect x="434" y="621" width="3" height="1" fill="#c0c0c0"/>
<rect x="440" y="621" width="3" height="1" fill="#c0c0c0"/>
<rect x="446" y="621" width="3" height="1" fill="#c0c0c0"/>
<rect x="452" y="621" width="3" height="1" fill="#c0c0c0"/>
<rect x="458" y="621" width="3" height="1" fill="#c0c0c0"/>
<rect x="464" y="621" width="3" height="1" fill="#c0c0c0"/>
<rect x="470" y="621" width="3" height="1" fill="#c0c0c0"/>
<rect x="476" y="621" width="3" height="1" fill="#c0c0c0"/>
<rect x="482" y="621" width="3" height="1" fill="#c0c0c0"/>
<rect x="488" y="621" width="3" height="1" fill="#c0c0c0"/>
<rect x="494" y="621" width="3" height="1" fill="#c0c0c0"/>
<rect x="500" y="621" width="3" height="1" fill="#c0c0c0"/>
<rect x="506" y="621" width="3" height="1" fill="#c0c0c0"/>
<rect x="512" y="621" width="3" height="1" fill="#c0c0c0"/>
<rect x="518" y="621" width="3" height="1" fill="#c0c0c0"/>
<rect x="524" y="621" width="3" height="1" fill="#c0c0c0"/>
<rect x="530" y="621" width="3" height="1" fill="#c0c0c0"/>
<rect x="536" y="621" width="3" height="1" fill="#c0c0c0"/>
<rect x="542" y="621" width="3" height="1" fill="#c0c0c0"/>
<rect x="548" y="621" width="3" height="1" fill="#c0c0c0"/>
<rect x="554" y="621" width="3" height="1" fill="#c0c0c0"/>
<rect x="560" y="621" width="3" height="1" fill="#c0c0c0"/>
<rect x="566" y="621" width="3" height="1" fill="#c0c0c0"/>
<rect x="572" y="621" width="3" height="1" fill="#c0c0c0"/>
<rect x="578" y="621" width="3" height="1" fill="#c0c0c0"/>
<rect x="584" y="621" width="3" height="1" fill="#c0c0c0"/>
<rect x="590" y="621" width="3" height="1" fill="#c0c0c0"/>
<rect x="596" y="621" width="3" height="1" fill="#c0c0c0"/>
<rect x="602" y="621" width="3" height="1" fill="#c0c0c0"/>
<rect x="608" y="621" width="3" height="1" fill="#c0c0c0"/>
<rect x="614" y="621" width="3" height="1" fill="#c0c0c0"/>
<rect x="620" y="621" width="3" height="1" fill="#c0c0c0"/>
<rect x="626" y="621" width="3" height="1" fill="#c0c0c0"/>
<rect x="632" y="621" width="3" height="1" fill="#c0c0c0"/>
<rect x="638" y="621" width="3" height="1" fill="#c0c0c0"/>
<rect x="644" y="621" width="3" height="1" fill="#c0c0c0"/>
<rect x="650" y="621" width="3" height="1" fill="#c0c0c0"/>
<rect x="656" y="621" width="3" height="1" fill="#c0c0c0"/>
<rect x="662" y="621" width="3" height="1" fill="#c0c0c0"/>
<rect x="668" y="621" width="3" height="1" fill="#c0c0c0"/>
<rect x="674" y="621" width="3" height="1" fill="#c0c0c0"/>
<rect x="680" y="621" width="3" height="1" fill="#c0c0c0"/>
<rect x="686" y="621" width="3" height="1" fill="#c0c0c0"/>
<rect x="692" y="621" width="3" height="1" fill="#c0c0c0"/>
<rect x="698" y="621" width="3" height="1" fill="#c0c0c0"/>
<rect x="704" y="621" width="3" height="1" fill="#c0c0c0"/>
<rect x="710" y="621" width="3" height="1" fill="#c0c0c0"/>
<rect x="716" y="621" width="3" height="1" fill="#c0c0c0"/>
<rect x="722" y="621" width="3" height="1" fill="#c0c0c0"/>
<rect x="728" y="621" width="3" height="1" fill="#c0c0c0"/>
<rect x="734" y="621" width="3" height="1" fill="#c0c0c0"/>
<rect x="740" y="621" width="3" height="1" fill="#c0c0c0"/>
<rect x="746" y="621" width="3" height="1" fill="#c0c0c0"/>
<rect x="752" y="621" width="3" height="1" fill="#c0c0c0"/>
<rect x="758" y="621" width="3" height="1" fill="#c0c0c0"/>
<rect x="764" y="621" width="3" height="1" fill="#c0c0c0"/>
<rect x="770" y="621" width="3" height="1" fill="#c0c0c0"/>
<rect x="776" y="621" width="3" height="1" fill="#c0c0c0"/>
<rect x="782" y="621" width="3" height="1" fill="#c0c0c0"/>
<rect x="788" y="621" width="3" height="1" fill="#c0c0c0"/>
<rect x="794" y="621" width="3" height="1" fill="#c0c0c0"/>
<rect x="800" y="621" width="3" height="1" fill="#c0c0c0"/>
<rect x="806" y="621" width="3" height="1" fill="#c0c0c0"/>
<rect x="812" y="621" width="3" height="1" fill="#c0c0c0"/>
<rect x="818" y="621" width="3" height="1" fill="#c0c0c0"/>
<rect x="824" y="621" width="3" height="1" fill="#c0c0c0"/>
<rect x="830" y="621" width="3" height="1" fill="#c0c0c0"/>
<rect x="836" y="621" width="3" height="1" fill="#c0c0c0"/>
<rect x="842" y="621" width="3" height="1" fill="#c0c0c0"/>
<rect x="848" y="621" width="3" height="1" fill="#c0c0c0"/>
<rect x="854" y="621" width="3" height="1" fill="#c0c0c0"/>
<rect x="860" y="621" width="3" height="1" fill="#c0c0c0"/>
<rect x="866" y="621" width="3" height="1" fill="#c0c0c0"/>
<rect x="872" y="621" width="3" height="1" fill="#c0c0c0"/>
<rect x="878" y="621" width="3" height="1" fill="#c0c0c0"/>
<rect x="884" y="621" width="3" height="1" fill="#c0c0c0"/>
<rect x="890" y="621" width="3" height="1" fill="#c0c0c0"/>
<rect x="896" y="621" width="3" height="1" fill="#c0c0c0"/>
<rect x="902" y="621" width="3" height="1" fill="#c0c0c0"/>
<rect x="908" y="621" width="3" height="1" fill="#c0c0c0"/>
<rect x="914" y="621" width="3" height="1" fill="#c0c0c0"/>
<rect x="920" y="621" width="3" height="1" fill="#c0c0c0"/>
<rect x="926" y="621" width="3" height="1" fill="#c0c0c0"/>
<rect x="932" y="621" width="3" height="1" fill="#c0c0c0"/>
<rect x="938" y="621" width="3" height="1" fill="#c0c0c0"/>
<rect x="944" y="621" width="3" height="1" fill="#c0c0c0"/>
<rect x="950" y="621" width="3" height="1" fill="#c0c0c0"/>
<rect x="956" y="621" width="3" height="1" fill="#c0c0c0"/>
<rect x="962" y="621" width="3" height="1" fill="#c0c0c0"/>
<rect x="968" y="621" width="3" height="1" fill="#c0c0c0"/>
<rect x="974" y="621" width="3" height="1" fill="#c0c0c0"/>
<rect x="980" y="621" width="3" height="1" fill="#c0c0c0"/>
<rect x="986" y="621" width="3" height="1" fill="#c0c0c0"/>
<rect x="992" y="621" width="3" height="1" fill="#c0c0c0"/>
<rect x="998" y="621" width="3" height="1" fill="#c0c0c0"/>
<rect x="1004" y="621" width="3" height="1" fill="#c0c0c0"/>
<rect x="1010" y="621" width="3" height="1" fill="#c0c0c0"/>
<rect x="1016" y="621" width="3" height="1" fill="#c0c0c0"/>
<rect x="1022" y="621" width="3" height="1" fill="#c0c0c0"/>
<rect x="1028" y="621" width="3" height="1" fill="#c0c0c0"/>
<rect x="1034" y="621" width="3" height="1" fill="#c0c0c0"/>
<rect x="1040" y="621" width="3" height="1" fill="#c0c0c0"/>
<rect x="1046" y="621" width="3" height="1" fill="#c0c0c0"/>
<rect x="1052" y="621" width="3" height="1" fill="#c0c0c0"/>
<rect x="1058" y="621" width="3" height="1" fill="#c0c0c0"/>
<rect x="1064" y="621" width="3" height="1" fill="#c0c0c0"/>
<rect x="1070" y="621" width="3" height="1" fill="#c0c0c0"/>
<rect x="1076" y="621" width="3" height="1" fill="#c0c0c0"/>
<rect x="1082" y="621" width="3" height="1" fill="#c0c0c0"/>
<rect x="1088" y="621" width="3" height="1" fill="#c0c0c0"/>
<rect x="1094" y="621" width="3" height="1" fill="#c0c0c0"/>
<rect x="1100" y="621" width="3" height="1" fill="#c0c0c0"/>
<rect x="1106" y="621" width="3" height="1" fill="#c0c0c0"/>
<rect x="1112" y="621" width="3" height="1" fill="#c0c0c0"/>
<rect x="1118" y="621" width="3" height="1" fill="#c0c0c0"/>
<rect x="1124" y="621" width="3" height="1" fill="#c0c0c0"/>
<rect x="1130" y="621" width="3" height="1" fill="#c0c0c0"/>
<rect x="1136" y="621" width="3" height="1" fill="#c0c0c0"/>
<rect x="1142" y="621" width="3" height="1" fill="#c0c0c0"/>
<rect x="1148" y="621" width="3" height="1" fill="#c0c0c0"/>
<rect x="1154" y="621" width="3" height="1" fill="#c0c0c0"/>
<rect x="1160" y="621" width="3" height="1" fill="#c0c0c0"/>
<rect x="1166" y="621" width="3" height="1" fill="#c0c0c0"/>
<rect x="1172" y="621" width="3" height="1" fill="#c0c0c0"/>
<rect x="1178" y="621" width="3" height="1" fill="#c0c0c0"/>
<rect x="1184" y="621" width="3" height="1" fill="#c0c0c0"/>
<rect x="1190" y="621" width="3" height="1" fill="#c0c0c0"/>
<rect x="1196" y="621" width="3" height="1" fill="#c0c0c0"/>
<rect x="1202" y="621" width="3" height="1" fill="#c0c0c0"/>
<rect x="1208" y="621" width="3" height="1" fill="#c0c0c0"/>
<rect x="1214" y="621" width="3" height="1" fill="#c0c0c0"/>
<rect x="1220" y="621" width="3" height="1" fill="#c0c0c0"/>
<rect x="1226" y="621" width="3" height="1" fill="#c0c0c0"/>
<rect x="1232" y="621" width="3" height="1" fill="#c0c0c0"/>
<rect x="1238" y="621" width="3" height="1" fill="#c0c0c0"/>
<rect x="1244" y="621" width="3" height="1" fill="#c0c0c0"/>
<rect x="1250" y="621" width="3" height="1" fill="#c0c0c0"/>
<rect x="1256" y="621" width="3" height="1" fill="#c0c0c0"/>
<rect x="1262" y="621" width="3" height="1" fill="#c0c0c0"/>
<rect x="1268" y="621" width="3" height="1" fill="#c0c0c0"/>
<rect x="1274" y="621" width="3" height="1" fill="#c0c0c0"/>
<rect x="1280" y="621" width="3" height="1" fill="#c0c0c0"/>
<rect x="1286" y="621" width="3" height="1" fill="#c0c0c0"/>
<rect x="1292" y="621" width="3" height="1" fill="#c0c0c0"/>
<rect x="1298" y="621" width="3" height="1" fill="#c0c0c0"/>
<rect x="1304" y="621" width="3" height="1" fill="#c0c0c0"/>
<rect x="1310" y="621" width="3" height="1" fill="#c0c0c0"/>
<rect x="1316" y="621" width="3" height="1" fill="#c0c0c0"/>
<rect x="1322" y="621" width="3" height="1" fill="#c0c0c0"/>
<rect x="1328" y="621" width="3" height="1" fill="#c0c0c0"/>
<rect x="1334" y="621" width="3" height="1" fill="#c0c0c0"/>
<rect x="1340" y="621" width="3" height="1" fill="#c0c0c0"/>
<rect x="1346" y="621" width="3" height="1" fill="#c0c0c0"/>
<rect x="1352" y="621" width="3" height="1" fill="#c0c0c0"/>
<rect x="1358" y="621" width="3" height="1" fill="#c0c0c0"/>
<rect x="1364" y="621" width="3" height="1" fill="#c0c0c0"/>
<rect x="1370" y="621" width="3" height="1" fill="#c0c0c0"/>
<rect x="1376" y="621" width="3" height="1" fill="#c0c0c0"/>
<rect x="1382" y="621" width="3" height="1" fill="#c0c0c0"/>
<rect x="1388" y="621" width="3" height="1" fill="#c0c0c0"/>
<rect x="1394" y="621" width="3" height="1" fill="#c0c0c0"/>
<rect x="1400" y="621" width="3" height="1" fill="#c0c0c0"/>
<rect x="1406" y="621" width="3" height="1" fill="#c0c0c0"/>
<rect x="1412" y="621" width="3" height="1" fill="#c0c0c0"/>
<rect x="1418" y="621" width="3" height="1" fill="#c0c0c0"/>
<rect x="1424" y="621" width="3" height="1" fill="#c0c0c0"/>
<rect x="1430" y="621" width="3" height="1" fill="#c0c0c0"/>
<rect x="1436" y="621" width="3" height="1" fill="#c0c0c0"/>
<rect x="1442" y="621" width="3" height="1" fill="#c0c0c0"/>
<rect x="1448" y="621" width="3" height="1" fill="#c0c0c0"/>
<rect x="1454" y="621" width="3" height="1" fill="#c0c0c0"/>
<rect x="1460" y="621" width="3" height="1" fill="#c0c0c0"/>
<rect x="1466" y="621" width="3" height="1" fill="#c0c0c0"/>
<rect x="1472" y="621" width="3" height="1" fill="#c0c0c0"/>
<rect x="1478" y="621" width="3" height="1" fill="#c0c0c0"/>
<rect x="1484" y="621" width="3" height="1" fill="#c0c0c0"/>
<rect x="1490" y="621" width="3" height="1" fill="#c0c0c0"/>
<rect x="1496" y="621" width="3" height="1" fill="#c0c0c0"/>
<rect x="1502" y="621" width="3" height="1" fill="#c0c0c0"/>
<rect x="1508" y="621" width="3" height="1" fill="#c0c0c0"/>
<rect x="1514" y="621" width="3" height="1" fill="#c0c0c0"/>
<rect x="1520" y="621" width="3" height="1" fill="#c0c0c0"/>
<rect x="1526" y="621" width="3" height="1" fill="#c0c0c0"/>
<rect x="1532" y="621" width="3" height="1" fill="#c0c0c0"/>
<rect x="1538" y="621" width="3" height="1" fill="#c0c0c0"/>
<rect x="1544" y="621" width="3" height="1" fill="#c0c0c0"/>
<rect x="1550" y="621" width="3" height="1" fill="#c0c0c0"/>
<rect x="1556" y="621" width="3" height="1" fill="#c0c0c0"/>
<rect x="1562" y="621" width="3" height="1" fill="#c0c0c0"/>
<rect x="1568" y="621" width="3" height="1" fill="#c0c0c0"/>
<rect x="1574" y="621" width="3" height="1" fill="#c0c0c0"/>
<rect x="1580" y="621" width="3" height="1" fill="#c0c0c0"/>
<rect x="1586" y="621" width="3" height="1" fill="#c0c0c0"/>
<rect x="1592" y="621" width="3" height="1" fill="#c0c0c0"/>
<rect x="1598" y="621" width="3" height="1" fill="#c0c0c0"/>
<rect x="1604" y="621" width="3" height="1" fill="#c0c0c0"/>
<rect x="1610" y="621" width="3" height="1" fill="#c0c0c0"/>
<rect x="1616" y="621" width="3" height="1" fill="#c0c0c0"/>
<rect x="1622" y="621" width="3" height="1" fill="#c0c0c0"/>
<rect x="1628" y="621" width="3" height="1" fill="#c0c0c0"/>
<rect x="1634" y="621" width="3" height="1" fill="#c0c0c0"/>
<rect x="1640" y="621" width="3" height="1" fill="#c0c0c0"/>
<rect x="1646" y="621" width="3" height="1" fill="#c0c0c0"/>
<rect x="1652" y="621" width="3" height="1" fill="#c0c0c0"/>
<rect x="1658" y="621" width="3" height="1" fill="#c0c0c0"/>
<rect x="1664" y="621" width="3" height="1" fill="#c0c0c0"/>
<rect x="1670" y="621" width="3" height="1" fill="#c0c0c0"/>
<rect x="1676" y="621" width="3" height="1" fill="#c0c0c0"/>
<path d="M4 33 L11 33 L7.5 37 Z" fill="#000" shape-rendering="geometricPrecision"/>
<text x="14.98" y="38" font-family="Liberation Sans, sans-serif" font-size="9.8" fill="#000" stroke="#000" stroke-width="0.2" textLength="57.65" lengthAdjust="spacingAndGlyphs">USDCAD,H4</text>
<text x="78.03" y="38" font-family="Liberation Sans, sans-serif" font-size="9.8" fill="#000" stroke="#000" stroke-width="0.2" textLength="33.64" lengthAdjust="spacingAndGlyphs">1.21195</text>
<text x="114.06" y="38" font-family="Liberation Sans, sans-serif" font-size="9.8" fill="#000" stroke="#000" stroke-width="0.2" textLength="33.34" lengthAdjust="spacingAndGlyphs">1.21227</text>
<text x="150.03" y="38" font-family="Liberation Sans, sans-serif" font-size="9.8" fill="#000" stroke="#000" stroke-width="0.2" textLength="32.94" lengthAdjust="spacingAndGlyphs">1.21119</text>
<text x="186.03" y="38" font-family="Liberation Sans, sans-serif" font-size="9.8" fill="#000" stroke="#000" stroke-width="0.2" textLength="33.64" lengthAdjust="spacingAndGlyphs">1.21147</text>
<path d="M1339 27 L1348 27 L1343.5 32 Z" fill="#c0c0c0" shape-rendering="geometricPrecision"/>
<rect x="1682" y="54" width="2" height="1" fill="#000"/>
<text x="1687.06" y="58" font-family="Liberation Sans, sans-serif" font-size="9.8" fill="#000" stroke="#000" stroke-width="0.2" textLength="33.34" lengthAdjust="spacingAndGlyphs">1.26500</text>
<rect x="1682" y="87" width="2" height="1" fill="#000"/>
<text x="1687.06" y="91" font-family="Liberation Sans, sans-serif" font-size="9.8" fill="#000" stroke="#000" stroke-width="0.2" textLength="33.34" lengthAdjust="spacingAndGlyphs">1.26060</text>
<rect x="1682" y="120" width="2" height="1" fill="#000"/>
<text x="1687.06" y="124" font-family="Liberation Sans, sans-serif" font-size="9.8" fill="#000" stroke="#000" stroke-width="0.2" textLength="33.34" lengthAdjust="spacingAndGlyphs">1.25620</text>
<rect x="1682" y="153" width="2" height="1" fill="#000"/>
<text x="1687.06" y="157" font-family="Liberation Sans, sans-serif" font-size="9.8" fill="#000" stroke="#000" stroke-width="0.2" textLength="33.34" lengthAdjust="spacingAndGlyphs">1.25180</text>
<rect x="1682" y="186" width="2" height="1" fill="#000"/>
<text x="1687.06" y="190" font-family="Liberation Sans, sans-serif" font-size="9.8" fill="#000" stroke="#000" stroke-width="0.2" textLength="33.34" lengthAdjust="spacingAndGlyphs">1.24740</text>
<rect x="1682" y="219" width="2" height="1" fill="#000"/>
<text x="1687.06" y="223" font-family="Liberation Sans, sans-serif" font-size="9.8" fill="#000" stroke="#000" stroke-width="0.2" textLength="33.34" lengthAdjust="spacingAndGlyphs">1.24300</text>
<rect x="1682" y="252" width="2" height="1" fill="#000"/>
<text x="1687.06" y="256" font-family="Liberation Sans, sans-serif" font-size="9.8" fill="#000" stroke="#000" stroke-width="0.2" textLength="33.34" lengthAdjust="spacingAndGlyphs">1.23870</text>
<rect x="1682" y="285" width="2" height="1" fill="#000"/>
<text x="1687.06" y="289" font-family="Liberation Sans, sans-serif" font-size="9.8" fill="#000" stroke="#000" stroke-width="0.2" textLength="33.34" lengthAdjust="spacingAndGlyphs">1.23430</text>
<rect x="1682" y="318" width="2" height="1" fill="#000"/>
<text x="1687.06" y="322" font-family="Liberation Sans, sans-serif" font-size="9.8" fill="#000" stroke="#000" stroke-width="0.2" textLength="33.34" lengthAdjust="spacingAndGlyphs">1.22990</text>
<rect x="1682" y="351" width="2" height="1" fill="#000"/>
<text x="1687.06" y="355" font-family="Liberation Sans, sans-serif" font-size="9.8" fill="#000" stroke="#000" stroke-width="0.2" textLength="33.34" lengthAdjust="spacingAndGlyphs">1.22550</text>
<rect x="1682" y="384" width="2" height="1" fill="#000"/>
<text x="1687.03" y="388" font-family="Liberation Sans, sans-serif" font-size="9.8" fill="#000" stroke="#000" stroke-width="0.2" textLength="33.64" lengthAdjust="spacingAndGlyphs">1.22110</text>
<rect x="1682" y="417" width="2" height="1" fill="#000"/>
<text x="1687.06" y="421" font-family="Liberation Sans, sans-serif" font-size="9.8" fill="#000" stroke="#000" stroke-width="0.2" textLength="33.34" lengthAdjust="spacingAndGlyphs">1.21670</text>
<rect x="1682" y="451" width="2" height="1" fill="#000"/>
<text x="1687.06" y="455" font-family="Liberation Sans, sans-serif" font-size="9.8" fill="#000" stroke="#000" stroke-width="0.2" textLength="33.34" lengthAdjust="spacingAndGlyphs">1.21240</text>
<rect x="1682" y="483" width="2" height="1" fill="#000"/>
<text x="1687.06" y="487" font-family="Liberation Sans, sans-serif" font-size="9.8" fill="#000" stroke="#000" stroke-width="0.2" textLength="33.34" lengthAdjust="spacingAndGlyphs">1.20800</text>
<rect x="1682" y="516" width="2" height="1" fill="#000"/>
<text x="1687.06" y="520" font-family="Liberation Sans, sans-serif" font-size="9.8" fill="#000" stroke="#000" stroke-width="0.2" textLength="33.34" lengthAdjust="spacingAndGlyphs">1.20360</text>
<rect x="1682" y="549" width="2" height="1" fill="#000"/>
<text x="1687.06" y="553" font-family="Liberation Sans, sans-serif" font-size="9.8" fill="#000" stroke="#000" stroke-width="0.2" textLength="33.34" lengthAdjust="spacingAndGlyphs">1.19920</text>
<rect x="0" y="240" width="1681" height="2" fill="#ff0000"/>
<rect x="0" y="238" width="6" height="6" fill="#ff0000"/>
<rect x="2" y="240" width="2" height="2" fill="#fff"/>
<rect x="1675" y="238" width="6" height="6" fill="#ff0000"/>
<rect x="1677" y="240" width="2" height="2" fill="#fff"/>
<rect x="1683" y="235" width="39" height="11" fill="#ff0000"/>
<text x="1687.06" y="244" font-family="Liberation Sans, sans-serif" font-size="9.8" fill="#fff" stroke="#fff" stroke-width="0.2" textLength="33.34" lengthAdjust="spacingAndGlyphs">1.24013</text>
<rect x="0" y="339" width="1681" height="2" fill="#ff0000"/>
<rect x="0" y="337" width="6" height="6" fill="#ff0000"/>
<rect x="2" y="339" width="2" height="2" fill="#fff"/>
<rect x="1675" y="337" width="6" height="6" fill="#ff0000"/>
<rect x="1677" y="339" width="2" height="2" fill="#fff"/>
<rect x="1683" y="334" width="39" height="11" fill="#ff0000"/>
<text x="1687.06" y="343" font-family="Liberation Sans, sans-serif" font-size="9.8" fill="#fff" stroke="#fff" stroke-width="0.2" textLength="33.34" lengthAdjust="spacingAndGlyphs">1.22704</text>
<rect x="0" y="414" width="1681" height="2" fill="#7cfc00"/>
<rect x="0" y="412" width="6" height="6" fill="#7cfc00"/>
<rect x="2" y="414" width="2" height="2" fill="#fff"/>
<rect x="1675" y="412" width="6" height="6" fill="#7cfc00"/>
<rect x="1677" y="414" width="2" height="2" fill="#fff"/>
<rect x="1683" y="409" width="39" height="11" fill="#7cfc00"/>
<text x="1687.06" y="418" font-family="Liberation Sans, sans-serif" font-size="9.8" fill="#fff" stroke="#fff" stroke-width="0.2" textLength="33.34" lengthAdjust="spacingAndGlyphs">1.21704</text>
<rect x="0" y="508" width="1681" height="2" fill="#0000ff"/>
<rect x="0" y="506" width="6" height="6" fill="#0000ff"/>
<rect x="2" y="508" width="2" height="2" fill="#fff"/>
<rect x="1675" y="506" width="6" height="6" fill="#0000ff"/>
<rect x="1677" y="508" width="2" height="2" fill="#fff"/>
<rect x="1683" y="503" width="39" height="11" fill="#0000ff"/>
<text x="1687.06" y="512" font-family="Liberation Sans, sans-serif" font-size="9.8" fill="#fff" stroke="#fff" stroke-width="0.2" textLength="33.34" lengthAdjust="spacingAndGlyphs">1.20456</text>
<rect x="1683" y="452" width="39" height="11" fill="#000"/>
<text x="1687.03" y="461" font-family="Liberation Sans, sans-serif" font-size="9.8" fill="#fff" stroke="#fff" stroke-width="0.2" textLength="33.64" lengthAdjust="spacingAndGlyphs">1.21147</text>
<text x="4.04" y="567" font-family="Liberation Sans, sans-serif" font-size="9.8" fill="#000" stroke="#000" stroke-width="0.2" textLength="68.85" lengthAdjust="spacingAndGlyphs">RSI(14) 56.5302</text>
<text x="1685.07" y="565" font-family="Liberation Sans, sans-serif" font-size="9.8" fill="#000" stroke="#000" stroke-width="0.2" textLength="15.27" lengthAdjust="spacingAndGlyphs">100</text>
<text x="1684.10" y="588" font-family="Liberation Sans, sans-serif" font-size="9.8" fill="#000" stroke="#000" stroke-width="0.2" textLength="9.82" lengthAdjust="spacingAndGlyphs">70</text>
<text x="1684.10" y="625" font-family="Liberation Sans, sans-serif" font-size="9.8" fill="#000" stroke="#000" stroke-width="0.2" textLength="9.82" lengthAdjust="spacingAndGlyphs">30</text>
<text x="1685.00" y="647" font-family="Liberation Sans, sans-serif" font-size="9.8" fill="#000" stroke="#000" stroke-width="0.2" textLength="5.45" lengthAdjust="spacingAndGlyphs">0</text>
<rect x="1682" y="556" width="1" height="1" fill="#000"/>
<rect x="1682" y="648" width="1" height="1" fill="#000"/>
<rect x="5" y="656" width="148" height="9" fill="#fff"/>
<text x="5.05" y="665" font-family="Liberation Sans, sans-serif" font-size="9.8" fill="#000" stroke="#000" stroke-width="0.2" textLength="148.18" lengthAdjust="spacingAndGlyphs">MACD(12,26,9) 0.000751 0.000554</text>
<polyline points="0,671.4 1,671.4 5,669.4 9,667.4 13,665.7 17,664.3 21,663.5 25,662.9 29,662.5 33,662.4 37,662.8 41,663.2 45,663.6 49,663.7 53,664.0 57,664.2 61,664.6 65,665.4 69,666.1 73,666.7 77,667.5 81,668.3 85,669.5 89,670.3 93,671.0 97,671.5 101,671.9 105,672.3 109,672.8 113,673.0 117,673.2 121,673.1 125,673.2 129,673.1 133,673.2 137,673.6 141,674.3 145,675.2 149,676.6 153,678.1 157,679.9 161,681.9 165,683.9 169,686.1 173,688.1 177,689.7 181,690.9 185,691.7 189,692.8 193,694.2 197,695.8 201,697.4 205,698.7 209,699.7 213,700.4 217,701.2 221,701.9 225,702.2 229,701.6 233,700.2 237,698.3 241,695.7 245,692.8 249,689.9 253,686.9 257,683.9 261,681.3 265,679.2 269,677.7 273,677.0 277,677.2 281,677.6 285,678.3 289,679.6 293,681.3 297,683.5 301,685.7 305,687.6 309,689.3 313,690.7 317,692.1 321,693.5 325,694.2 329,694.3 333,693.7 337,693.0 341,692.7 345,692.4 349,692.3 353,692.4 357,692.5 361,692.8 365,693.5 369,694.7 373,696.0 377,697.0 381,698.1 385,699.0 389,699.6 393,700.1 397,700.4 401,700.4 405,700.4 409,700.3 413,700.3 417,700.1 421,699.8 425,699.8 429,700.2 433,700.8 437,700.9 441,700.7 445,700.3 449,700.0 453,699.5 457,698.8 461,697.4 465,694.9 469,691.9 473,688.9 477,685.9 481,682.3 485,679.7 489,678.0 493,676.9 497,676.9 501,678.1 505,680.1 509,682.8 513,685.9 517,689.7 521,692.8 525,695.2 529,697.0 533,698.5 537,699.7 541,701.1 545,702.2 549,703.5 553,705.3 557,707.2 561,709.4 565,711.8 569,714.3 573,716.6 577,718.5 581,720.4 585,722.0 589,722.6 593,722.6 597,722.1 601,721.5 605,721.1 609,721.3 613,722.2 617,723.3 621,724.7 625,726.2 629,728.1 633,730.3 637,732.6 641,734.6 645,736.0 649,736.7 653,736.7 657,736.5 661,736.0 665,734.9 669,733.3 673,731.5 677,729.7 681,727.8 685,725.7 689,723.6 693,721.2 697,718.7 701,716.3 705,713.9 709,711.6 713,709.4 717,707.3 721,705.7 725,704.5 729,703.9 733,703.8 737,704.0 741,704.6 745,705.6 749,707.1 753,709.3 757,711.9 761,714.6 765,717.2 769,719.9 773,722.9 777,725.8 781,728.5 785,731.0 789,732.9 793,734.4 797,735.9 801,737.3 805,738.4 809,739.2 813,739.5 817,739.7 821,739.2 825,738.5 829,737.1 833,735.2 837,733.1 841,731.3 845,729.3 849,727.0 853,724.5 857,721.7 861,718.8 865,716.1 869,713.3 873,710.2 877,706.5 881,702.8 885,699.6 889,697.1 893,695.2 897,693.9 901,692.8 905,692.2 909,692.2 913,693.1 917,694.6 921,696.4 925,698.1 929,700.0 933,702.1 937,704.3 941,706.2 945,708.0 949,709.2 953,709.9 957,710.0 961,709.6 965,708.5 969,706.6 973,704.2 977,701.7 981,698.9 985,696.7 989,694.9 993,693.8 997,692.8 1001,692.1 1005,692.2 1009,692.8 1013,693.6 1017,694.8 1021,695.7 1025,696.1 1029,696.3 1033,696.4 1037,696.3 1041,696.2 1045,696.1 1049,696.2 1053,696.4 1057,696.6 1061,696.5 1065,696.4 1069,696.3 1073,696.4 1077,696.1 1081,695.2 1085,693.8 1089,691.8 1093,689.5 1097,687.3 1101,685.1 1105,683.2 1109,681.5 1113,680.4 1117,679.9 1121,679.7 1125,679.9 1129,680.6 1133,681.5 1137,682.6 1141,683.7 1145,684.4 1149,685.1 1153,685.6 1157,686.2 1161,687.0 1165,687.9 1169,689.0 1173,690.1 1177,691.5 1181,692.9 1185,693.9 1189,694.8 1193,695.4 1197,695.7 1201,695.7 1205,695.6 1209,695.6 1213,695.3 1217,694.8 1221,694.5 1225,693.7 1229,692.6 1233,691.4 1237,689.9 1241,688.0 1245,685.6 1249,683.4 1253,681.3 1257,679.7 1261,678.7 1265,678.2 1269,678.1 1273,678.6 1277,679.7 1281,681.1 1285,682.1 1289,683.0 1293,683.6 1297,684.1 1301,684.5 1305,684.5 1309,684.2 1313,683.7 1317,683.2 1321,683.1 1325,683.0 1329,682.6 1333,682.1 1337,681.6" fill="none" stroke="#ff0000" stroke-width="1" stroke-dasharray="3,3"/>
<text x="1685.00" y="663" font-family="Liberation Sans, sans-serif" font-size="9.8" fill="#000" stroke="#000" stroke-width="0.2" textLength="38.83" lengthAdjust="spacingAndGlyphs">0.003035</text>
<text x="1685.00" y="691" font-family="Liberation Sans, sans-serif" font-size="9.8" fill="#000" stroke="#000" stroke-width="0.2" textLength="18.07" lengthAdjust="spacingAndGlyphs">0.00</text>
<text x="1685.00" y="744" font-family="Liberation Sans, sans-serif" font-size="9.8" fill="#000" stroke="#000" stroke-width="0.2" textLength="41.92" lengthAdjust="spacingAndGlyphs">-0.005429</text>
<rect x="1682" y="654" width="2" height="1" fill="#000"/>
<rect x="1682" y="687" width="2" height="1" fill="#000"/>
<rect x="1682" y="746" width="2" height="1" fill="#000"/>
<rect x="1" y="748" width="1" height="3" fill="#000"/>
<text x="0.00" y="760" font-family="Liberation Sans, sans-serif" font-size="9.8" fill="#000" stroke="#000" stroke-width="0.2" textLength="52.01" lengthAdjust="spacingAndGlyphs">24 Mar 2021</text>
<rect x="65" y="748" width="1" height="3" fill="#000"/>
<text x="64.00" y="760" font-family="Liberation Sans, sans-serif" font-size="9.8" fill="#000" stroke="#000" stroke-width="0.2" textLength="55.71" lengthAdjust="spacingAndGlyphs">26 Mar 18:00</text>
<rect x="129" y="748" width="1" height="3" fill="#000"/>
<text x="127.02" y="760" font-family="Liberation Sans, sans-serif" font-size="9.8" fill="#000" stroke="#000" stroke-width="0.2" textLength="56.70" lengthAdjust="spacingAndGlyphs">31 Mar 10:00</text>
<rect x="193" y="748" width="1" height="3" fill="#000"/>
<text x="191.00" y="760" font-family="Liberation Sans, sans-serif" font-size="9.8" fill="#000" stroke="#000" stroke-width="0.2" textLength="50.12" lengthAdjust="spacingAndGlyphs">5 Apr 19:00</text>
<rect x="257" y="748" width="1" height="3" fill="#000"/>
<text x="256.60" y="760" font-family="Liberation Sans, sans-serif" font-size="9.8" fill="#000" stroke="#000" stroke-width="0.2" textLength="48.87" lengthAdjust="spacingAndGlyphs">8 Apr 10:00</text>
<rect x="321" y="748" width="1" height="3" fill="#000"/>
<text x="319.62" y="760" font-family="Liberation Sans, sans-serif" font-size="9.8" fill="#000" stroke="#000" stroke-width="0.2" textLength="54.17" lengthAdjust="spacingAndGlyphs">13 Apr 00:00</text>
<rect x="385" y="748" width="1" height="3" fill="#000"/>
<text x="383.62" y="760" font-family="Liberation Sans, sans-serif" font-size="9.8" fill="#000" stroke="#000" stroke-width="0.2" textLength="54.17" lengthAdjust="spacingAndGlyphs">15 Apr 18:00</text>
<rect x="449" y="748" width="1" height="3" fill="#000"/>
<text x="448.60" y="760" font-family="Liberation Sans, sans-serif" font-size="9.8" fill="#000" stroke="#000" stroke-width="0.2" textLength="54.17" lengthAdjust="spacingAndGlyphs">20 Apr 10:00</text>
<rect x="513" y="748" width="1" height="3" fill="#000"/>
<text x="512.60" y="760" font-family="Liberation Sans, sans-serif" font-size="9.8" fill="#000" stroke="#000" stroke-width="0.2" textLength="54.17" lengthAdjust="spacingAndGlyphs">23 Apr 00:00</text>
<rect x="577" y="748" width="1" height="3" fill="#000"/>
<text x="576.60" y="760" font-family="Liberation Sans, sans-serif" font-size="9.8" fill="#000" stroke="#000" stroke-width="0.2" textLength="54.17" lengthAdjust="spacingAndGlyphs">27 Apr 18:00</text>
<rect x="641" y="748" width="1" height="3" fill="#000"/>
<text x="639.62" y="760" font-family="Liberation Sans, sans-serif" font-size="9.8" fill="#000" stroke="#000" stroke-width="0.2" textLength="54.17" lengthAdjust="spacingAndGlyphs">30 Apr 10:00</text>
<rect x="705" y="748" width="1" height="3" fill="#000"/>
<text x="703.61" y="760" font-family="Liberation Sans, sans-serif" font-size="9.8" fill="#000" stroke="#000" stroke-width="0.2" textLength="53.38" lengthAdjust="spacingAndGlyphs">5 May 00:00</text>
<rect x="769" y="748" width="1" height="3" fill="#000"/>
<text x="767.61" y="760" font-family="Liberation Sans, sans-serif" font-size="9.8" fill="#000" stroke="#000" stroke-width="0.2" textLength="53.38" lengthAdjust="spacingAndGlyphs">7 May 18:00</text>
<rect x="833" y="748" width="1" height="3" fill="#000"/>
<text x="831.61" y="760" font-family="Liberation Sans, sans-serif" font-size="9.8" fill="#000" stroke="#000" stroke-width="0.2" textLength="58.78" lengthAdjust="spacingAndGlyphs">12 May 10:00</text>
<rect x="897" y="748" width="1" height="3" fill="#000"/>
<text x="895.61" y="760" font-family="Liberation Sans, sans-serif" font-size="9.8" fill="#000" stroke="#000" stroke-width="0.2" textLength="58.78" lengthAdjust="spacingAndGlyphs">15 May 00:00</text>
<rect x="961" y="748" width="1" height="3" fill="#000"/>
<text x="959.61" y="760" font-family="Liberation Sans, sans-serif" font-size="9.8" fill="#000" stroke="#000" stroke-width="0.2" textLength="58.78" lengthAdjust="spacingAndGlyphs">19 May 18:00</text>
<rect x="1025" y="748" width="1" height="3" fill="#000"/>
<text x="1024.60" y="760" font-family="Liberation Sans, sans-serif" font-size="9.8" fill="#000" stroke="#000" stroke-width="0.2" textLength="58.05" lengthAdjust="spacingAndGlyphs">24 May 11:00</text>
<rect x="1089" y="748" width="1" height="3" fill="#000"/>
<text x="1088.60" y="760" font-family="Liberation Sans, sans-serif" font-size="9.8" fill="#000" stroke="#000" stroke-width="0.2" textLength="58.78" lengthAdjust="spacingAndGlyphs">27 May 00:00</text>
<rect x="1153" y="748" width="1" height="3" fill="#000"/>
<text x="1151.61" y="760" font-family="Liberation Sans, sans-serif" font-size="9.8" fill="#000" stroke="#000" stroke-width="0.2" textLength="58.78" lengthAdjust="spacingAndGlyphs">31 May 19:00</text>
<rect x="1217" y="748" width="1" height="3" fill="#000"/>
<text x="1215.02" y="760" font-family="Liberation Sans, sans-serif" font-size="9.8" fill="#000" stroke="#000" stroke-width="0.2" textLength="50.19" lengthAdjust="spacingAndGlyphs">3 Jun 10:00</text>
<rect x="1281" y="748" width="1" height="3" fill="#000"/>
<text x="1280.00" y="760" font-family="Liberation Sans, sans-serif" font-size="9.8" fill="#000" stroke="#000" stroke-width="0.2" textLength="48.21" lengthAdjust="spacingAndGlyphs">8 Jun 00:00</text>
<rect x="0" y="768" width="1722" height="1" fill="#e3e3e3"/>
<rect x="0" y="769" width="1722" height="23" fill="#f0f0f0"/>
<rect x="0" y="770" width="1722" height="1" fill="#000"/>
<rect x="378" y="770" width="92" height="19" fill="#fff"/>
<rect x="378" y="770" width="1" height="19" fill="#000"/>
<rect x="469" y="770" width="1" height="19" fill="#000"/>
<rect x="378" y="788" width="92" height="1" fill="#000"/>
<text x="12.04" y="785" font-family="Liberation Sans, sans-serif" font-size="12.5" fill="#6d6d6d" stroke="#6d6d6d" stroke-width="0" textLength="67.11" lengthAdjust="spacingAndGlyphs">USDCHF,H4</text>
<text x="100.02" y="785" font-family="Liberation Sans, sans-serif" font-size="12.5" fill="#6d6d6d" stroke="#6d6d6d" stroke-width="0" textLength="82.72" lengthAdjust="spacingAndGlyphs">USDCNH,Daily</text>
<text x="205.04" y="785" font-family="Liberation Sans, sans-serif" font-size="12.5" fill="#6d6d6d" stroke="#6d6d6d" stroke-width="0" textLength="69.20" lengthAdjust="spacingAndGlyphs">EURUSD,H4</text>
<text x="297.00" y="785" font-family="Liberation Sans, sans-serif" font-size="12.5" fill="#6d6d6d" stroke="#6d6d6d" stroke-width="0" textLength="71.25" lengthAdjust="spacingAndGlyphs">AUDUSD,H4</text>
<text x="388.03" y="785" font-family="Liberation Sans, sans-serif" font-size="12.5" fill="#000" stroke="#000" stroke-width="0" textLength="70.21" lengthAdjust="spacingAndGlyphs">USDCAD,H4</text>
<text x="480.00" y="785" font-family="Liberation Sans, sans-serif" font-size="12.5" fill="#6d6d6d" stroke="#6d6d6d" stroke-width="0" textLength="83.36" lengthAdjust="spacingAndGlyphs">XAUUSD,Daily</text>
<text x="582.98" y="785" font-family="Liberation Sans, sans-serif" font-size="12.5" fill="#6d6d6d" stroke="#6d6d6d" stroke-width="0" textLength="64.92" lengthAdjust="spacingAndGlyphs">USOil,Daily</text>
<rect x="90" y="773" width="1" height="14" fill="#6d6d6d"/>
<rect x="194" y="773" width="1" height="14" fill="#6d6d6d"/>
<rect x="286" y="773" width="1" height="14" fill="#6d6d6d"/>
<rect x="574" y="773" width="1" height="14" fill="#6d6d6d"/>
<rect x="658" y="773" width="1" height="14" fill="#6d6d6d"/>
<rect x="0" y="790" width="1722" height="1" fill="#fafafa"/>
<path d="M1700.6 776 L1700.6 782 L1697 779 Z" fill="#8c8c8c" shape-rendering="geometricPrecision"/>
<path d="M1716 776 L1716 782 L1719.6 779 Z" fill="#8c8c8c" shape-rendering="geometricPrecision"/>
</svg>
</body></html>
